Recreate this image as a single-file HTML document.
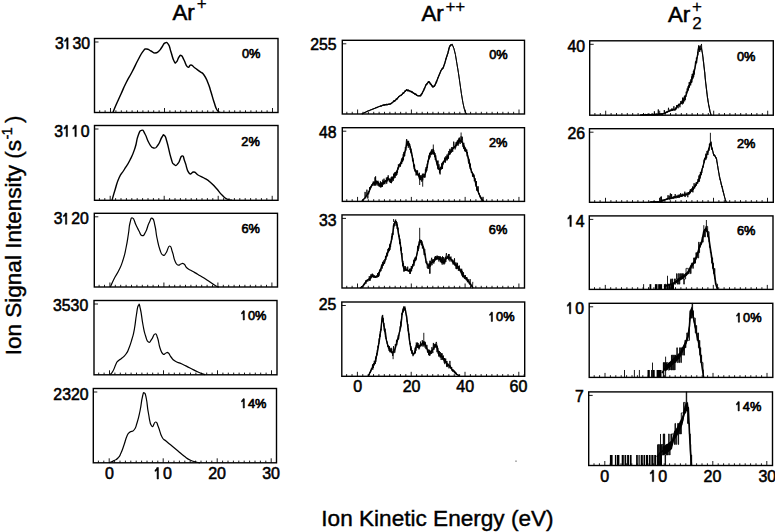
<!DOCTYPE html>
<html><head><meta charset="utf-8"><style>
html,body{margin:0;padding:0;background:#fff;}
body{width:775px;height:532px;overflow:hidden;}
svg{display:block;font-family:"Liberation Sans", sans-serif;-webkit-font-smoothing:antialiased;}
</style></head><body>
<svg width="775" height="532" viewBox="0 0 775 532">
<rect width="775" height="532" fill="#fff"/>
<rect x="94.5" y="38.5" width="183.50" height="74.00" fill="none" stroke="#000" stroke-width="1.4"/>
<line x1="94.5" y1="42.00" x2="98.50" y2="42.00" stroke="#000" stroke-width="0.9"/>
<path d="M99.70 112.50V110.30M105.10 112.50V110.30M110.50 112.50V108.00M115.90 112.50V110.30M121.30 112.50V110.30M126.70 112.50V110.30M132.10 112.50V110.30M137.50 112.50V110.30M142.90 112.50V110.30M148.30 112.50V110.30M153.70 112.50V110.30M159.10 112.50V110.30M164.50 112.50V108.00M169.90 112.50V110.30M175.30 112.50V110.30M180.70 112.50V110.30M186.10 112.50V110.30M191.50 112.50V110.30M196.90 112.50V110.30M202.30 112.50V110.30M207.70 112.50V110.30M213.10 112.50V110.30M218.50 112.50V108.00M223.90 112.50V110.30M229.30 112.50V110.30M234.70 112.50V110.30M240.10 112.50V110.30M245.50 112.50V110.30M250.90 112.50V110.30M256.30 112.50V110.30M261.70 112.50V110.30M267.10 112.50V110.30M272.50 112.50V108.00" stroke="#000" stroke-width="0.9" fill="none"/>
<rect x="94.5" y="125.5" width="183.50" height="74.80" fill="none" stroke="#000" stroke-width="1.4"/>
<line x1="94.5" y1="129.00" x2="98.50" y2="129.00" stroke="#000" stroke-width="0.9"/>
<path d="M99.40 200.30V198.10M104.80 200.30V198.10M110.20 200.30V195.80M115.60 200.30V198.10M121.00 200.30V198.10M126.40 200.30V198.10M131.80 200.30V198.10M137.20 200.30V198.10M142.60 200.30V198.10M148.00 200.30V198.10M153.40 200.30V198.10M158.80 200.30V198.10M164.20 200.30V195.80M169.60 200.30V198.10M175.00 200.30V198.10M180.40 200.30V198.10M185.80 200.30V198.10M191.20 200.30V198.10M196.60 200.30V198.10M202.00 200.30V198.10M207.40 200.30V198.10M212.80 200.30V198.10M218.20 200.30V195.80M223.60 200.30V198.10M229.00 200.30V198.10M234.40 200.30V198.10M239.80 200.30V198.10M245.20 200.30V198.10M250.60 200.30V198.10M256.00 200.30V198.10M261.40 200.30V198.10M266.80 200.30V198.10M272.20 200.30V195.80" stroke="#000" stroke-width="0.9" fill="none"/>
<rect x="94.3" y="213.3" width="183.20" height="73.70" fill="none" stroke="#000" stroke-width="1.4"/>
<line x1="94.3" y1="216.80" x2="98.30" y2="216.80" stroke="#000" stroke-width="0.9"/>
<path d="M99.10 287.00V284.80M104.50 287.00V284.80M109.90 287.00V282.50M115.30 287.00V284.80M120.70 287.00V284.80M126.10 287.00V284.80M131.50 287.00V284.80M136.90 287.00V284.80M142.30 287.00V284.80M147.70 287.00V284.80M153.10 287.00V284.80M158.50 287.00V284.80M163.90 287.00V282.50M169.30 287.00V284.80M174.70 287.00V284.80M180.10 287.00V284.80M185.50 287.00V284.80M190.90 287.00V284.80M196.30 287.00V284.80M201.70 287.00V284.80M207.10 287.00V284.80M212.50 287.00V284.80M217.90 287.00V282.50M223.30 287.00V284.80M228.70 287.00V284.80M234.10 287.00V284.80M239.50 287.00V284.80M244.90 287.00V284.80M250.30 287.00V284.80M255.70 287.00V284.80M261.10 287.00V284.80M266.50 287.00V284.80M271.90 287.00V282.50" stroke="#000" stroke-width="0.9" fill="none"/>
<rect x="94" y="300.5" width="183.00" height="74.30" fill="none" stroke="#000" stroke-width="1.4"/>
<line x1="94" y1="304.00" x2="98.00" y2="304.00" stroke="#000" stroke-width="0.9"/>
<path d="M98.70 374.80V372.60M104.10 374.80V372.60M109.50 374.80V370.30M114.90 374.80V372.60M120.30 374.80V372.60M125.70 374.80V372.60M131.10 374.80V372.60M136.50 374.80V372.60M141.90 374.80V372.60M147.30 374.80V372.60M152.70 374.80V372.60M158.10 374.80V372.60M163.50 374.80V370.30M168.90 374.80V372.60M174.30 374.80V372.60M179.70 374.80V372.60M185.10 374.80V372.60M190.50 374.80V372.60M195.90 374.80V372.60M201.30 374.80V372.60M206.70 374.80V372.60M212.10 374.80V372.60M217.50 374.80V370.30M222.90 374.80V372.60M228.30 374.80V372.60M233.70 374.80V372.60M239.10 374.80V372.60M244.50 374.80V372.60M249.90 374.80V372.60M255.30 374.80V372.60M260.70 374.80V372.60M266.10 374.80V372.60M271.50 374.80V370.30" stroke="#000" stroke-width="0.9" fill="none"/>
<rect x="93.3" y="388.5" width="183.20" height="74.30" fill="none" stroke="#000" stroke-width="1.4"/>
<line x1="93.3" y1="392.00" x2="97.30" y2="392.00" stroke="#000" stroke-width="0.9"/>
<path d="M98.40 462.80V460.60M103.80 462.80V460.60M109.20 462.80V458.30M114.60 462.80V460.60M120.00 462.80V460.60M125.40 462.80V460.60M130.80 462.80V460.60M136.20 462.80V460.60M141.60 462.80V460.60M147.00 462.80V460.60M152.40 462.80V460.60M157.80 462.80V460.60M163.20 462.80V458.30M168.60 462.80V460.60M174.00 462.80V460.60M179.40 462.80V460.60M184.80 462.80V460.60M190.20 462.80V460.60M195.60 462.80V460.60M201.00 462.80V460.60M206.40 462.80V460.60M211.80 462.80V460.60M217.20 462.80V458.30M222.60 462.80V460.60M228.00 462.80V460.60M233.40 462.80V460.60M238.80 462.80V460.60M244.20 462.80V460.60M249.60 462.80V460.60M255.00 462.80V460.60M260.40 462.80V460.60M265.80 462.80V460.60M271.20 462.80V458.30" stroke="#000" stroke-width="0.9" fill="none"/>
<rect x="342.3" y="40.3" width="182.20" height="73.70" fill="none" stroke="#000" stroke-width="1.4"/>
<line x1="342.3" y1="43.80" x2="346.30" y2="43.80" stroke="#000" stroke-width="0.9"/>
<path d="M346.84 114.00V111.80M352.22 114.00V111.80M357.60 114.00V109.50M362.98 114.00V111.80M368.36 114.00V111.80M373.74 114.00V111.80M379.12 114.00V111.80M384.50 114.00V111.80M389.88 114.00V111.80M395.26 114.00V111.80M400.64 114.00V111.80M406.02 114.00V111.80M411.40 114.00V109.50M416.78 114.00V111.80M422.16 114.00V111.80M427.54 114.00V111.80M432.92 114.00V111.80M438.30 114.00V111.80M443.68 114.00V111.80M449.06 114.00V111.80M454.44 114.00V111.80M459.82 114.00V111.80M465.20 114.00V109.50M470.58 114.00V111.80M475.96 114.00V111.80M481.34 114.00V111.80M486.72 114.00V111.80M492.10 114.00V111.80M497.48 114.00V111.80M502.86 114.00V111.80M508.24 114.00V111.80M513.62 114.00V111.80M519.00 114.00V109.50" stroke="#000" stroke-width="0.9" fill="none"/>
<rect x="342.3" y="127.7" width="182.20" height="73.70" fill="none" stroke="#000" stroke-width="1.4"/>
<line x1="342.3" y1="131.20" x2="346.30" y2="131.20" stroke="#000" stroke-width="0.9"/>
<path d="M346.79 201.40V199.20M352.17 201.40V199.20M357.55 201.40V196.90M362.93 201.40V199.20M368.31 201.40V199.20M373.69 201.40V199.20M379.07 201.40V199.20M384.45 201.40V199.20M389.83 201.40V199.20M395.21 201.40V199.20M400.59 201.40V199.20M405.97 201.40V199.20M411.35 201.40V196.90M416.73 201.40V199.20M422.11 201.40V199.20M427.49 201.40V199.20M432.87 201.40V199.20M438.25 201.40V199.20M443.63 201.40V199.20M449.01 201.40V199.20M454.39 201.40V199.20M459.77 201.40V199.20M465.15 201.40V196.90M470.53 201.40V199.20M475.91 201.40V199.20M481.29 201.40V199.20M486.67 201.40V199.20M492.05 201.40V199.20M497.43 201.40V199.20M502.81 201.40V199.20M508.19 201.40V199.20M513.57 201.40V199.20M518.95 201.40V196.90" stroke="#000" stroke-width="0.9" fill="none"/>
<rect x="342" y="214.9" width="182.50" height="73.10" fill="none" stroke="#000" stroke-width="1.4"/>
<line x1="342" y1="218.40" x2="346.00" y2="218.40" stroke="#000" stroke-width="0.9"/>
<path d="M346.74 288.00V285.80M352.12 288.00V285.80M357.50 288.00V283.50M362.88 288.00V285.80M368.26 288.00V285.80M373.64 288.00V285.80M379.02 288.00V285.80M384.40 288.00V285.80M389.78 288.00V285.80M395.16 288.00V285.80M400.54 288.00V285.80M405.92 288.00V285.80M411.30 288.00V283.50M416.68 288.00V285.80M422.06 288.00V285.80M427.44 288.00V285.80M432.82 288.00V285.80M438.20 288.00V285.80M443.58 288.00V285.80M448.96 288.00V285.80M454.34 288.00V285.80M459.72 288.00V285.80M465.10 288.00V283.50M470.48 288.00V285.80M475.86 288.00V285.80M481.24 288.00V285.80M486.62 288.00V285.80M492.00 288.00V285.80M497.38 288.00V285.80M502.76 288.00V285.80M508.14 288.00V285.80M513.52 288.00V285.80M518.90 288.00V283.50" stroke="#000" stroke-width="0.9" fill="none"/>
<rect x="341.8" y="302" width="182.90" height="74.30" fill="none" stroke="#000" stroke-width="1.4"/>
<line x1="341.8" y1="305.50" x2="345.80" y2="305.50" stroke="#000" stroke-width="0.9"/>
<path d="M346.64 376.30V374.10M352.02 376.30V374.10M357.40 376.30V371.80M362.78 376.30V374.10M368.16 376.30V374.10M373.54 376.30V374.10M378.92 376.30V374.10M384.30 376.30V374.10M389.68 376.30V374.10M395.06 376.30V374.10M400.44 376.30V374.10M405.82 376.30V374.10M411.20 376.30V371.80M416.58 376.30V374.10M421.96 376.30V374.10M427.34 376.30V374.10M432.72 376.30V374.10M438.10 376.30V374.10M443.48 376.30V374.10M448.86 376.30V374.10M454.24 376.30V374.10M459.62 376.30V374.10M465.00 376.30V371.80M470.38 376.30V374.10M475.76 376.30V374.10M481.14 376.30V374.10M486.52 376.30V374.10M491.90 376.30V374.10M497.28 376.30V374.10M502.66 376.30V374.10M508.04 376.30V374.10M513.42 376.30V374.10M518.80 376.30V371.80M524.18 376.30V374.10" stroke="#000" stroke-width="0.9" fill="none"/>
<rect x="589.7" y="40.8" width="183.60" height="74.40" fill="none" stroke="#000" stroke-width="1.4"/>
<line x1="589.7" y1="44.30" x2="593.70" y2="44.30" stroke="#000" stroke-width="0.9"/>
<path d="M594.90 115.20V113.00M600.30 115.20V113.00M605.70 115.20V110.70M611.10 115.20V113.00M616.50 115.20V113.00M621.90 115.20V113.00M627.30 115.20V113.00M632.70 115.20V113.00M638.10 115.20V113.00M643.50 115.20V113.00M648.90 115.20V113.00M654.30 115.20V113.00M659.70 115.20V110.70M665.10 115.20V113.00M670.50 115.20V113.00M675.90 115.20V113.00M681.30 115.20V113.00M686.70 115.20V113.00M692.10 115.20V113.00M697.50 115.20V113.00M702.90 115.20V113.00M708.30 115.20V113.00M713.70 115.20V110.70M719.10 115.20V113.00M724.50 115.20V113.00M729.90 115.20V113.00M735.30 115.20V113.00M740.70 115.20V113.00M746.10 115.20V113.00M751.50 115.20V113.00M756.90 115.20V113.00M762.30 115.20V113.00M767.70 115.20V110.70" stroke="#000" stroke-width="0.9" fill="none"/>
<rect x="589.5" y="128.7" width="183.80" height="73.60" fill="none" stroke="#000" stroke-width="1.4"/>
<line x1="589.5" y1="132.20" x2="593.50" y2="132.20" stroke="#000" stroke-width="0.9"/>
<path d="M594.70 202.30V200.10M600.10 202.30V200.10M605.50 202.30V197.80M610.90 202.30V200.10M616.30 202.30V200.10M621.70 202.30V200.10M627.10 202.30V200.10M632.50 202.30V200.10M637.90 202.30V200.10M643.30 202.30V200.10M648.70 202.30V200.10M654.10 202.30V200.10M659.50 202.30V197.80M664.90 202.30V200.10M670.30 202.30V200.10M675.70 202.30V200.10M681.10 202.30V200.10M686.50 202.30V200.10M691.90 202.30V200.10M697.30 202.30V200.10M702.70 202.30V200.10M708.10 202.30V200.10M713.50 202.30V197.80M718.90 202.30V200.10M724.30 202.30V200.10M729.70 202.30V200.10M735.10 202.30V200.10M740.50 202.30V200.10M745.90 202.30V200.10M751.30 202.30V200.10M756.70 202.30V200.10M762.10 202.30V200.10M767.50 202.30V197.80" stroke="#000" stroke-width="0.9" fill="none"/>
<rect x="589.3" y="215.9" width="183.70" height="73.50" fill="none" stroke="#000" stroke-width="1.4"/>
<line x1="589.3" y1="219.40" x2="593.30" y2="219.40" stroke="#000" stroke-width="0.9"/>
<path d="M594.50 289.40V287.20M599.90 289.40V287.20M605.30 289.40V284.90M610.70 289.40V287.20M616.10 289.40V287.20M621.50 289.40V287.20M626.90 289.40V287.20M632.30 289.40V287.20M637.70 289.40V287.20M643.10 289.40V287.20M648.50 289.40V287.20M653.90 289.40V287.20M659.30 289.40V284.90M664.70 289.40V287.20M670.10 289.40V287.20M675.50 289.40V287.20M680.90 289.40V287.20M686.30 289.40V287.20M691.70 289.40V287.20M697.10 289.40V287.20M702.50 289.40V287.20M707.90 289.40V287.20M713.30 289.40V284.90M718.70 289.40V287.20M724.10 289.40V287.20M729.50 289.40V287.20M734.90 289.40V287.20M740.30 289.40V287.20M745.70 289.40V287.20M751.10 289.40V287.20M756.50 289.40V287.20M761.90 289.40V287.20M767.30 289.40V284.90" stroke="#000" stroke-width="0.9" fill="none"/>
<rect x="589.2" y="303.3" width="183.60" height="74.10" fill="none" stroke="#000" stroke-width="1.4"/>
<line x1="589.2" y1="306.80" x2="593.20" y2="306.80" stroke="#000" stroke-width="0.9"/>
<path d="M594.20 377.40V375.20M599.60 377.40V375.20M605.00 377.40V372.90M610.40 377.40V375.20M615.80 377.40V375.20M621.20 377.40V375.20M626.60 377.40V375.20M632.00 377.40V375.20M637.40 377.40V375.20M642.80 377.40V375.20M648.20 377.40V375.20M653.60 377.40V375.20M659.00 377.40V372.90M664.40 377.40V375.20M669.80 377.40V375.20M675.20 377.40V375.20M680.60 377.40V375.20M686.00 377.40V375.20M691.40 377.40V375.20M696.80 377.40V375.20M702.20 377.40V375.20M707.60 377.40V375.20M713.00 377.40V372.90M718.40 377.40V375.20M723.80 377.40V375.20M729.20 377.40V375.20M734.60 377.40V375.20M740.00 377.40V375.20M745.40 377.40V375.20M750.80 377.40V375.20M756.20 377.40V375.20M761.60 377.40V375.20M767.00 377.40V372.90" stroke="#000" stroke-width="0.9" fill="none"/>
<rect x="588.7" y="391.9" width="183.80" height="73.60" fill="none" stroke="#000" stroke-width="1.4"/>
<line x1="588.7" y1="395.40" x2="592.70" y2="395.40" stroke="#000" stroke-width="0.9"/>
<path d="M594.00 465.50V463.30M599.40 465.50V463.30M604.80 465.50V461.00M610.20 465.50V463.30M615.60 465.50V463.30M621.00 465.50V463.30M626.40 465.50V463.30M631.80 465.50V463.30M637.20 465.50V463.30M642.60 465.50V463.30M648.00 465.50V463.30M653.40 465.50V463.30M658.80 465.50V461.00M664.20 465.50V463.30M669.60 465.50V463.30M675.00 465.50V463.30M680.40 465.50V463.30M685.80 465.50V463.30M691.20 465.50V463.30M696.60 465.50V463.30M702.00 465.50V463.30M707.40 465.50V463.30M712.80 465.50V461.00M718.20 465.50V463.30M723.60 465.50V463.30M729.00 465.50V463.30M734.40 465.50V463.30M739.80 465.50V463.30M745.20 465.50V463.30M750.60 465.50V463.30M756.00 465.50V463.30M761.40 465.50V463.30M766.80 465.50V461.00" stroke="#000" stroke-width="0.9" fill="none"/>
<path d="M113.00 112.40 C113.90 110.18 113.60 110.52 116.00 105.00 C118.40 99.48 118.00 100.60 121.00 94.00 C124.00 87.40 122.70 89.60 126.00 83.00 C129.30 76.40 128.40 78.90 132.00 72.00 C135.60 65.10 134.70 66.18 138.00 60.00 C141.30 53.82 140.48 54.70 143.00 51.40 C145.52 48.10 144.00 49.12 146.40 49.00 C148.80 48.88 148.42 49.80 151.00 51.00 C153.58 52.20 152.60 53.00 155.00 53.00 C157.40 53.00 156.90 52.80 159.00 51.00 C161.10 49.20 160.20 49.40 162.00 47.00 C163.80 44.60 163.08 43.78 165.00 43.00 C166.92 42.22 166.60 41.70 168.40 44.40 C170.20 47.10 169.32 47.02 171.00 52.00 C172.68 56.98 172.38 58.00 174.00 61.00 C175.62 64.00 174.90 63.20 176.40 62.00 C177.90 60.80 177.50 58.92 179.00 57.00 C180.50 55.08 179.90 54.70 181.40 55.60 C182.90 56.50 182.14 56.58 184.00 60.00 C185.86 63.42 185.50 65.50 187.60 67.00 C189.70 68.50 188.78 64.70 191.00 65.00 C193.22 65.30 192.30 66.02 195.00 68.00 C197.70 69.98 197.30 69.50 200.00 71.60 C202.70 73.70 201.60 71.58 204.00 75.00 C206.40 78.42 205.90 77.90 208.00 83.00 C210.10 88.10 209.20 86.30 211.00 92.00 C212.80 97.70 212.20 96.60 214.00 102.00 C215.80 107.40 215.20 106.88 217.00 110.00 C218.80 113.12 219.10 111.68 220.00 112.40" fill="none" stroke="#000" stroke-width="1.45" stroke-linejoin="round"/>
<path d="M112.00 200.30 C112.90 197.21 112.90 196.69 115.00 190.00 C117.10 183.31 116.30 184.00 119.00 178.00 C121.70 172.00 120.70 175.40 124.00 170.00 C127.30 164.60 126.70 166.60 130.00 160.00 C133.30 153.40 132.60 155.20 135.00 148.00 C137.40 140.80 136.02 141.28 138.00 136.00 C139.98 130.72 139.50 131.00 141.60 130.40 C143.70 129.80 142.78 130.22 145.00 134.00 C147.22 137.78 146.42 138.80 149.00 143.00 C151.58 147.20 150.90 147.40 153.60 148.00 C156.30 148.60 155.48 148.30 158.00 145.00 C160.52 141.70 160.08 139.82 162.00 137.00 C163.92 134.18 162.90 134.10 164.40 135.60 C165.90 137.10 165.02 135.28 167.00 142.00 C168.98 148.72 168.90 151.28 171.00 158.00 C173.10 164.72 171.90 162.72 174.00 164.40 C176.10 166.08 175.60 166.12 178.00 163.60 C180.40 161.08 179.90 156.48 182.00 156.00 C184.10 155.52 182.90 156.90 185.00 162.00 C187.10 167.10 186.30 170.00 189.00 173.00 C191.70 176.00 191.30 171.40 194.00 172.00 C196.70 172.60 195.00 173.20 198.00 175.00 C201.00 176.80 200.40 175.90 204.00 178.00 C207.60 180.10 206.40 179.00 210.00 182.00 C213.60 185.00 212.40 184.10 216.00 188.00 C219.60 191.90 218.70 191.70 222.00 195.00 C225.30 198.30 224.00 197.41 227.00 199.00 C230.00 200.59 230.50 199.91 232.00 200.30" fill="none" stroke="#000" stroke-width="1.4" stroke-linejoin="round"/>
<path d="M110.40 287.00 C111.48 284.60 111.42 284.10 114.00 279.00 C116.58 273.90 116.30 275.70 119.00 270.00 C121.70 264.30 120.90 266.60 123.00 260.00 C125.10 253.40 124.38 255.80 126.00 248.00 C127.62 240.20 127.20 241.50 128.40 234.00 C129.60 226.50 128.74 227.80 130.00 223.00 C131.26 218.20 130.80 217.40 132.60 218.00 C134.40 218.60 134.08 221.10 136.00 225.00 C137.92 228.90 137.20 227.82 139.00 231.00 C140.80 234.18 140.02 235.30 142.00 235.60 C143.98 235.90 143.50 235.78 145.60 232.00 C147.70 228.22 146.96 227.08 149.00 223.00 C151.04 218.92 150.60 217.50 152.40 218.40 C154.20 219.30 153.62 220.12 155.00 226.00 C156.38 231.88 155.50 230.80 157.00 238.00 C158.50 245.20 158.20 244.90 160.00 250.00 C161.80 255.10 161.20 254.10 163.00 255.00 C164.80 255.90 164.02 255.70 166.00 253.00 C167.98 250.30 167.68 246.30 169.60 246.00 C171.52 245.70 170.78 247.50 172.40 252.00 C174.02 256.50 173.32 257.10 175.00 261.00 C176.68 264.90 176.20 264.10 178.00 265.00 C179.80 265.90 179.20 264.30 181.00 264.00 C182.80 263.70 182.20 262.80 184.00 264.00 C185.80 265.20 184.60 265.90 187.00 268.00 C189.40 270.10 188.70 269.08 192.00 271.00 C195.30 272.92 194.40 272.30 198.00 274.40 C201.60 276.50 200.40 275.72 204.00 278.00 C207.60 280.28 206.40 279.60 210.00 282.00 C213.60 284.40 213.30 284.50 216.00 286.00 C218.70 287.50 218.10 286.70 219.00 287.00" fill="none" stroke="#000" stroke-width="1.2" stroke-linejoin="round"/>
<path d="M110.00 374.80 C110.90 373.66 111.20 374.24 113.00 371.00 C114.80 367.76 114.50 367.00 116.00 364.00 C117.50 361.00 116.20 362.80 118.00 361.00 C119.80 359.20 119.60 360.10 122.00 358.00 C124.40 355.90 123.90 357.00 126.00 354.00 C128.10 351.00 127.20 352.50 129.00 348.00 C130.80 343.50 130.38 344.70 132.00 339.00 C133.62 333.30 133.08 336.20 134.40 329.00 C135.72 321.80 135.20 322.08 136.40 315.00 C137.60 307.92 137.20 307.20 138.40 305.40 C139.60 303.60 139.02 303.12 140.40 309.00 C141.78 314.88 141.44 316.90 143.00 325.00 C144.56 333.10 143.98 330.90 145.60 336.00 C147.22 341.10 146.60 340.98 148.40 342.00 C150.20 343.02 149.62 341.80 151.60 339.40 C153.58 337.00 153.20 334.42 155.00 334.00 C156.80 333.58 156.10 333.80 157.60 338.00 C159.10 342.20 158.38 343.20 160.00 348.00 C161.62 352.80 161.20 352.50 163.00 354.00 C164.80 355.50 164.38 353.30 166.00 353.00 C167.62 352.70 166.90 351.80 168.40 353.00 C169.90 354.20 169.02 354.60 171.00 357.00 C172.98 359.40 171.70 358.90 175.00 361.00 C178.30 363.10 177.50 361.90 182.00 364.00 C186.50 366.10 185.20 365.60 190.00 368.00 C194.80 370.40 193.50 369.96 198.00 372.00 C202.50 374.04 202.90 373.96 205.00 374.80" fill="none" stroke="#000" stroke-width="1.2" stroke-linejoin="round"/>
<path d="M109.00 462.80 C110.50 462.14 111.30 462.04 114.00 460.60 C116.70 459.16 115.90 460.28 118.00 458.00 C120.10 455.72 119.20 456.90 121.00 453.00 C122.80 449.10 122.20 450.10 124.00 445.00 C125.80 439.90 125.20 439.90 127.00 436.00 C128.80 432.10 127.90 433.80 130.00 432.00 C132.10 430.20 131.90 432.70 134.00 430.00 C136.10 427.30 135.20 428.70 137.00 423.00 C138.80 417.30 138.38 418.80 140.00 411.00 C141.62 403.20 141.08 402.40 142.40 397.00 C143.72 391.60 143.20 392.40 144.40 393.00 C145.60 393.60 145.20 393.00 146.40 399.00 C147.60 405.00 146.84 404.90 148.40 413.00 C149.96 421.10 149.44 423.30 151.60 426.00 C153.76 428.70 153.56 421.70 155.60 422.00 C157.64 422.30 156.48 422.50 158.40 427.00 C160.32 431.50 159.72 432.80 162.00 437.00 C164.28 441.20 163.00 438.30 166.00 441.00 C169.00 443.70 168.40 443.00 172.00 446.00 C175.60 449.00 174.40 448.00 178.00 451.00 C181.60 454.00 180.40 453.30 184.00 456.00 C187.60 458.70 186.40 458.20 190.00 460.00 C193.60 461.80 193.00 461.16 196.00 462.00 C199.00 462.84 198.80 462.56 200.00 462.80" fill="none" stroke="#000" stroke-width="1.2" stroke-linejoin="round"/>
<path d="M361.80 114.00 L366.80 111.50 L371.80 109.50 L378.00 107.00 L384.00 105.00 L390.00 104.20 L393.00 101.90 L396.00 99.70 L399.00 96.60 L402.00 94.40 L404.30 92.10 L406.50 89.90 L408.80 90.60 L411.10 91.40 L413.30 92.90 L415.60 94.40 L417.80 95.90 L420.10 95.90 L421.60 94.40 L423.80 89.90 L426.10 84.60 L428.80 81.60 L430.60 83.90 L432.90 86.90 L434.40 86.10 L436.60 81.60 L438.90 75.60 L441.10 70.30 L443.40 67.30 L444.90 62.80 L446.40 57.50 L447.90 53.00 L449.40 47.00 L450.90 44.80 L452.00 44.80" fill="none" stroke="#000" stroke-width="1.3" stroke-linejoin="round"/>
<path d="M452.00 44.80 L452.40 44.80 L453.90 48.50 L455.40 54.50 L456.90 63.60 L458.40 72.60 L459.90 83.10 L461.40 93.60 L462.90 102.70 L464.40 109.40 L465.90 113.20 L467.00 114.00" fill="none" stroke="#000" stroke-width="1.0" stroke-linejoin="round"/>
<path d="M361.80 113.85 L362.20 113.98 L362.60 113.30 L363.00 113.55 L363.40 113.03 L363.80 113.19 L364.20 112.74 L364.60 112.77 L365.00 112.19 L365.40 112.46 L365.80 111.97 L366.20 111.90 L366.60 111.57 L367.00 111.69 L367.40 111.03 L367.80 111.11 L368.20 110.62 L368.60 111.10 L369.00 110.40 L369.40 110.66 L369.80 110.25 L370.20 110.15 L370.60 109.79 L371.00 109.84 L371.40 109.58 L371.80 109.60 L372.20 109.33 L372.60 109.38 L373.00 108.81 L373.40 109.25 L373.80 108.44 L374.20 108.85 L374.60 108.11 L375.00 108.56 L375.40 107.80 L375.80 108.04 L376.20 107.15 L376.60 108.15 L377.00 106.90 L377.40 107.68 L377.80 106.88 L378.20 107.08 L378.60 106.61 L379.00 106.71 L379.40 106.01 L379.80 106.68 L380.20 105.67 L380.60 106.41 L381.00 105.30 L381.40 106.50 L381.80 105.73 L382.20 105.76 L382.60 104.75 L383.00 105.71 L383.40 104.41 L383.80 105.39 L384.20 104.91 L384.60 105.44 L385.00 104.21 L385.40 105.04 L385.80 104.69 L386.20 104.99 L386.60 103.83 L387.00 105.25 L387.40 104.44 L387.80 104.71 L388.20 104.35 L388.60 104.44 L389.00 103.63 L389.40 104.44 L389.80 103.73 L390.20 104.45 L390.60 103.56 L391.00 104.14 L391.40 103.00 L391.80 103.48 L392.20 102.39 L392.60 102.66 L393.00 101.67 L393.40 101.90 L393.80 100.25 L394.20 101.90 L394.60 100.39 L395.00 101.41 L395.40 99.91 L395.80 100.28 L396.20 98.55 L396.60 99.79 L397.00 98.56 L397.40 99.34 L397.80 97.61 L398.20 97.71 L398.60 96.16 L399.00 96.96 L399.40 95.98 L399.80 96.09 L400.20 95.62 L400.60 96.07 L401.00 94.87 L401.40 95.50 L401.80 94.14 L402.20 94.70 L402.60 92.74 L403.00 93.93 L403.40 92.37 L403.80 93.55 L404.20 92.00 L404.60 91.97 L405.00 90.40 L405.40 91.90 L405.80 90.33 L406.20 90.41 L406.60 89.12 L407.00 91.09 L407.40 89.96 L407.80 91.34 L408.20 89.45 L408.60 91.20 L409.00 90.21 L409.40 90.92 L409.80 90.91 L410.20 92.15 L410.60 90.96 L411.00 92.14 L411.40 91.32 L411.80 92.78 L412.20 91.49 L412.60 92.75 L413.00 92.50 L413.40 93.76 L413.80 93.15 L414.20 93.74 L414.60 93.13 L415.00 94.95 L415.40 93.59 L415.80 94.84 L416.20 93.80 L416.60 95.31 L417.00 95.34 L417.40 95.92 L417.80 95.41 L418.20 95.97 L418.60 95.71 L419.00 96.31 L419.40 95.27 L419.80 96.04 L420.20 95.40 L420.60 96.38 L421.00 93.92 L421.40 95.32 L421.80 93.23 L422.20 93.82 L422.60 92.20 L423.00 91.57 L423.40 90.70 L423.80 90.90 L424.20 88.21 L424.60 89.12 L425.00 87.11 L425.40 86.91 L425.80 84.76 L426.20 85.29 L426.60 83.69 L427.00 84.70 L427.40 83.07 L427.80 83.31 L428.20 81.46 L428.60 82.81 L429.00 81.04 L429.40 83.14 L429.80 82.01 L430.20 84.40 L430.60 83.51 L431.00 85.18 L431.40 83.95 L431.80 86.42 L432.20 85.53 L432.60 87.38 L433.00 85.90 L433.40 87.26 L433.80 85.73 L434.20 86.63 L434.60 85.05 L435.00 85.54 L435.40 83.97 L435.80 83.94 L436.20 81.33 L436.60 82.57 L437.00 79.76 L437.40 79.94 L437.80 77.66 L438.20 78.07 L438.60 75.90 L439.00 76.28 L439.40 74.30 L439.80 74.26 L440.20 72.44 L440.60 72.17 L441.00 70.01 L441.40 70.16 L441.80 68.62 L442.20 69.41 L442.60 67.67 L443.00 68.83 L443.40 67.02 L443.80 66.11 L444.20 64.57 L444.60 64.45 L445.00 62.22 L445.40 61.22 L445.80 58.62 L446.20 58.93 L446.60 56.41 L447.00 56.68 L447.40 54.14 L447.80 54.03 L448.20 51.58 L448.60 50.67 L449.00 47.71 L449.40 48.01 L449.80 45.45 L450.20 46.25 L450.60 44.60 L451.00 45.15 L451.40 44.65 L451.80 45.35 L452.20 43.88 L452.60 45.57 L453.00 46.05 L453.40 47.58 L453.80 48.16 L454.20 49.76 L454.60 51.15 L455.00 52.99 L455.40 54.43 L455.80 57.06 L456.20 59.15 L456.60 61.94 L457.00 64.10 L457.40 66.88 L457.80 68.68 L458.20 71.55 L458.60 73.98 L459.00 76.81 L459.40 79.31 L459.80 82.41 L460.20 84.97 L460.60 88.19 L461.00 90.70 L461.40 93.86 L461.80 96.02 L462.20 98.50 L462.60 100.73 L463.00 103.15 L463.40 104.73 L463.80 106.77 L464.20 108.49 L464.60 109.91 L465.00 110.86 L465.40 111.98 L465.80 112.88 L466.20 113.48 L466.60 113.63 L467.00 114.00" fill="none" stroke="#000" stroke-width="0.8" stroke-linejoin="miter"/>
<path d="M361.80 201.40 L365.50 197.20 L368.50 192.70 L370.80 187.40 L373.00 183.60 L376.00 181.40 L378.30 182.90 L379.80 185.20 L382.10 183.60 L385.10 181.40 L388.10 179.10 L391.10 179.90 L394.10 176.90 L396.40 172.40 L398.60 167.10 L400.90 162.60 L403.10 158.10 L405.40 150.60 L406.90 143.00 L407.90 143.50 L409.90 146.10 L411.40 152.10 L412.90 159.60 L414.40 168.60 L416.70 173.10 L418.90 176.10 L421.20 177.60 L423.40 176.90 L425.00 174.60 L427.30 165.60 L429.50 155.10 L431.00 152.10 L432.50 151.30 L434.80 155.10 L436.30 161.10 L438.50 167.90 L440.00 170.10 L442.30 165.60 L444.50 160.30 L447.60 156.60 L450.60 151.30 L453.60 147.60 L455.80 146.10 L458.10 142.30 L459.60 140.50 L461.80 141.50 L463.30 144.50 L464.80 147.60 L467.10 153.60 L468.60 158.80 L470.10 166.40 L471.60 171.60 L473.90 176.10 L475.40 182.10 L476.90 188.20 L479.10 194.20 L481.40 198.70 L483.60 201.40" fill="none" stroke="#000" stroke-width="1.4" stroke-linejoin="round"/>
<path d="M361.80 200.86 L362.10 201.40 L362.40 200.71 L362.70 200.69 L363.00 199.25 L363.30 200.33 L363.60 199.19 L363.90 199.20 L364.20 198.61 L364.50 198.42 L364.80 197.61 L365.10 191.91 L365.40 196.65 L365.70 198.31 L366.00 196.27 L366.30 196.23 L366.60 194.40 L366.90 189.65 L367.20 193.79 L367.50 195.56 L367.80 198.47 L368.10 195.80 L368.40 191.89 L368.70 194.24 L369.00 191.19 L369.30 192.07 L369.60 187.28 L369.90 189.58 L370.20 187.15 L370.50 188.94 L370.80 185.92 L371.10 187.27 L371.40 185.69 L371.70 185.99 L372.00 184.02 L372.30 185.01 L372.60 183.50 L372.90 185.58 L373.20 181.63 L373.50 183.87 L373.80 181.63 L374.10 185.64 L374.40 182.55 L374.70 185.28 L375.00 177.28 L375.30 185.65 L375.60 176.33 L375.90 184.63 L376.20 180.66 L376.50 183.54 L376.80 180.92 L377.10 185.52 L377.40 181.21 L377.70 183.57 L378.00 180.75 L378.30 185.58 L378.60 182.28 L378.90 186.42 L379.20 183.78 L379.50 186.34 L379.80 183.55 L380.10 187.12 L380.40 181.29 L380.70 187.46 L381.00 182.13 L381.30 187.16 L381.60 182.63 L381.90 186.54 L382.20 183.46 L382.50 186.74 L382.80 179.68 L383.10 184.90 L383.40 181.20 L383.70 183.77 L384.00 178.66 L384.30 184.04 L384.60 181.29 L384.90 184.21 L385.20 180.39 L385.50 182.32 L385.80 180.32 L386.10 181.82 L386.40 177.52 L386.70 183.73 L387.00 179.83 L387.30 181.40 L387.60 176.95 L387.90 180.16 L388.20 175.29 L388.50 179.97 L388.80 178.45 L389.10 181.27 L389.40 178.83 L389.70 181.83 L390.00 178.66 L390.30 182.93 L390.60 178.90 L390.90 182.74 L391.20 177.24 L391.50 183.20 L391.80 176.61 L392.10 181.68 L392.40 176.70 L392.70 179.47 L393.00 177.14 L393.30 180.79 L393.60 173.84 L393.90 178.58 L394.20 173.29 L394.50 176.60 L394.80 172.33 L395.10 177.92 L395.40 172.01 L395.70 175.32 L396.00 171.72 L396.30 175.66 L396.60 171.14 L396.90 174.89 L397.20 170.27 L397.50 173.07 L397.80 167.66 L398.10 169.47 L398.40 164.29 L398.70 167.71 L399.00 166.22 L399.30 165.78 L399.60 164.52 L399.90 165.68 L400.20 163.27 L400.50 166.66 L400.80 162.41 L401.10 164.23 L401.40 159.57 L401.70 164.01 L402.00 157.93 L402.30 162.15 L402.60 157.55 L402.90 161.23 L403.20 154.26 L403.50 160.05 L403.80 152.18 L404.10 156.46 L404.40 151.55 L404.70 156.07 L405.00 151.67 L405.30 147.18 L405.60 149.16 L405.90 150.41 L406.20 142.90 L406.50 139.25 L406.80 141.70 L407.10 145.98 L407.40 141.19 L407.70 144.32 L408.00 141.32 L408.30 147.77 L408.60 140.86 L408.90 145.93 L409.20 142.91 L409.50 145.63 L409.80 144.14 L410.10 150.04 L410.40 146.81 L410.70 152.58 L411.00 148.66 L411.30 154.07 L411.60 151.73 L411.90 156.06 L412.20 155.62 L412.50 161.22 L412.80 158.14 L413.10 161.19 L413.40 160.20 L413.70 166.48 L414.00 164.01 L414.30 169.18 L414.60 165.20 L414.90 171.49 L415.20 169.51 L415.50 171.53 L415.80 169.94 L416.10 175.49 L416.40 171.25 L416.70 174.61 L417.00 170.21 L417.30 174.87 L417.60 170.57 L417.90 175.39 L418.20 174.07 L418.50 176.44 L418.80 173.54 L419.10 178.47 L419.40 172.78 L419.70 180.18 L420.00 175.05 L420.30 179.73 L420.60 176.30 L420.90 180.17 L421.20 175.08 L421.50 180.22 L421.80 181.70 L422.10 178.80 L422.40 173.79 L422.70 180.30 L423.00 175.83 L423.30 173.58 L423.60 175.44 L423.90 176.64 L424.20 174.31 L424.50 177.60 L424.80 174.33 L425.10 177.48 L425.40 169.49 L425.70 173.26 L426.00 167.23 L426.30 171.61 L426.60 167.35 L426.90 170.61 L427.20 163.65 L427.50 167.83 L427.80 160.77 L428.10 161.86 L428.40 158.99 L428.70 159.21 L429.00 155.50 L429.30 159.26 L429.60 152.81 L429.90 157.52 L430.20 157.37 L430.50 155.47 L430.80 151.66 L431.10 155.09 L431.40 149.89 L431.70 154.30 L432.00 149.10 L432.30 152.50 L432.60 154.20 L432.90 154.25 L433.20 148.78 L433.50 153.62 L433.80 150.18 L434.10 154.79 L434.40 151.93 L434.70 157.10 L435.00 153.04 L435.30 159.95 L435.60 155.43 L435.90 155.43 L436.20 160.34 L436.50 163.29 L436.80 160.49 L437.10 165.59 L437.40 161.06 L437.70 168.74 L438.00 160.56 L438.30 169.80 L438.60 167.27 L438.90 164.19 L439.20 165.81 L439.50 173.16 L439.80 168.15 L440.10 174.42 L440.40 166.81 L440.70 169.50 L441.00 167.89 L441.30 169.38 L441.60 163.43 L441.90 168.94 L442.20 162.85 L442.50 168.86 L442.80 161.82 L443.10 164.31 L443.40 161.25 L443.70 162.99 L444.00 160.84 L444.30 162.03 L444.60 157.58 L444.90 161.47 L445.20 158.70 L445.50 162.58 L445.80 156.28 L446.10 160.45 L446.40 156.80 L446.70 158.32 L447.00 154.54 L447.30 160.34 L447.60 156.26 L447.90 158.38 L448.20 153.43 L448.50 158.73 L448.80 151.03 L449.10 155.00 L449.40 152.48 L449.70 149.07 L450.00 148.76 L450.30 154.37 L450.60 151.14 L450.90 151.41 L451.20 148.91 L451.50 152.61 L451.80 147.03 L452.10 150.59 L452.40 147.41 L452.70 151.90 L453.00 148.01 L453.30 149.09 L453.60 141.72 L453.90 141.73 L454.20 146.19 L454.50 147.44 L454.80 146.14 L455.10 149.40 L455.40 144.72 L455.70 147.71 L456.00 142.30 L456.30 145.68 L456.60 142.13 L456.90 145.26 L457.20 140.77 L457.50 144.16 L457.80 140.21 L458.10 145.78 L458.40 139.29 L458.70 144.21 L459.00 137.84 L459.30 142.55 L459.60 137.67 L459.90 141.82 L460.20 143.93 L460.50 142.40 L460.80 138.33 L461.10 136.31 L461.40 137.25 L461.70 142.63 L462.00 141.49 L462.30 136.72 L462.60 140.37 L462.90 146.79 L463.20 143.44 L463.50 148.65 L463.80 142.79 L464.10 149.16 L464.40 146.44 L464.70 151.07 L465.00 147.78 L465.30 151.76 L465.60 147.87 L465.90 151.15 L466.20 149.63 L466.50 152.61 L466.80 149.66 L467.10 156.39 L467.40 151.96 L467.70 156.31 L468.00 159.22 L468.30 161.50 L468.60 163.51 L468.90 163.28 L469.20 159.38 L469.50 166.60 L469.80 162.80 L470.10 168.79 L470.40 163.87 L470.70 169.73 L471.00 168.63 L471.30 172.56 L471.60 171.32 L471.90 172.88 L472.20 172.13 L472.50 176.71 L472.80 173.10 L473.10 176.10 L473.40 174.44 L473.70 177.02 L474.00 174.61 L474.30 181.21 L474.60 178.82 L474.90 180.49 L475.20 178.30 L475.50 185.22 L475.80 182.01 L476.10 186.68 L476.40 181.05 L476.70 190.68 L477.00 186.42 L477.30 190.03 L477.60 189.89 L477.90 191.34 L478.20 186.35 L478.50 193.64 L478.80 193.23 L479.10 194.44 L479.40 193.45 L479.70 196.44 L480.00 195.60 L480.30 197.97 L480.60 196.47 L480.90 198.63 L481.20 197.44 L481.50 199.44 L481.80 198.54 L482.10 200.42 L482.40 199.79 L482.70 201.24 L483.00 196.87 L483.30 201.40" fill="none" stroke="#000" stroke-width="0.85" stroke-linejoin="miter"/>
<path d="M360.30 288.00 L363.30 285.70 L366.30 281.20 L369.30 278.90 L372.30 275.90 L375.30 277.40 L377.60 275.20 L379.80 271.40 L382.10 265.40 L384.30 263.10 L386.60 255.60 L388.80 250.30 L391.10 242.10 L392.60 234.60 L393.80 225.50 L395.30 221.00 L396.80 224.00 L397.90 230.00 L399.40 239.10 L400.90 248.10 L402.40 261.60 L403.90 268.40 L406.90 269.90 L409.90 271.40 L412.10 267.60 L414.40 261.60 L416.70 255.60 L418.20 248.10 L420.00 240.60 L421.90 243.60 L423.40 248.10 L425.00 255.60 L426.40 263.10 L428.80 266.10 L431.00 263.10 L433.30 261.60 L435.50 258.60 L438.50 258.60 L441.50 260.10 L443.80 263.10 L446.10 258.60 L448.30 257.10 L450.60 258.60 L452.80 261.60 L455.10 264.60 L457.30 266.10 L459.60 269.10 L461.80 273.70 L464.10 276.70 L467.10 279.70 L469.40 282.70 L471.60 285.70 L473.10 288.00" fill="none" stroke="#000" stroke-width="1.4" stroke-linejoin="round"/>
<path d="M360.30 287.70 L360.60 288.00 L360.90 287.33 L361.20 287.48 L361.50 286.24 L361.80 287.46 L362.10 286.28 L362.40 287.34 L362.70 286.14 L363.00 286.10 L363.30 284.78 L363.60 286.19 L363.90 283.72 L364.20 284.65 L364.50 283.27 L364.80 284.26 L365.10 282.42 L365.40 283.09 L365.70 280.57 L366.00 283.63 L366.30 280.01 L366.60 281.27 L366.90 279.72 L367.20 280.99 L367.50 279.66 L367.80 281.57 L368.10 279.48 L368.40 280.22 L368.70 278.83 L369.00 279.34 L369.30 276.15 L369.60 280.74 L369.90 278.17 L370.20 280.55 L370.50 275.62 L370.80 278.79 L371.10 274.04 L371.40 277.52 L371.70 275.14 L372.00 276.71 L372.30 273.61 L372.60 276.85 L372.90 274.03 L373.20 277.68 L373.50 275.26 L373.80 277.24 L374.10 276.40 L374.40 277.19 L374.70 275.18 L375.00 277.38 L375.30 276.25 L375.60 277.12 L375.90 276.40 L376.20 277.52 L376.50 275.96 L376.80 277.36 L377.10 275.66 L377.40 277.28 L377.70 273.06 L378.00 277.05 L378.30 273.87 L378.60 276.93 L378.90 271.97 L379.20 275.66 L379.50 269.68 L379.80 272.33 L380.10 269.84 L380.40 269.98 L380.70 268.72 L381.00 271.13 L381.30 265.66 L381.60 267.97 L381.90 264.27 L382.20 268.58 L382.50 261.85 L382.80 265.82 L383.10 264.23 L383.40 265.41 L383.70 260.40 L384.00 263.58 L384.30 262.61 L384.60 263.35 L384.90 259.07 L385.20 260.18 L385.50 255.89 L385.80 260.03 L386.10 255.92 L386.40 257.06 L386.70 252.83 L387.00 256.61 L387.30 252.24 L387.60 255.55 L387.90 249.06 L388.20 252.27 L388.50 247.94 L388.80 251.44 L389.10 248.10 L389.40 250.82 L389.70 244.37 L390.00 249.82 L390.30 243.34 L390.60 247.05 L390.90 241.71 L391.20 242.02 L391.50 236.31 L391.80 239.62 L392.10 233.32 L392.40 236.86 L392.70 232.90 L393.00 234.81 L393.30 225.52 L393.60 228.86 L393.90 223.45 L394.20 226.34 L394.50 221.97 L394.80 223.22 L395.10 221.47 L395.40 221.88 L395.70 219.56 L396.00 225.76 L396.30 221.02 L396.60 224.41 L396.90 222.08 L397.20 228.93 L397.50 224.63 L397.80 229.66 L398.10 227.70 L398.40 234.88 L398.70 233.93 L399.00 236.71 L399.30 235.61 L399.60 243.73 L399.90 238.63 L400.20 244.28 L400.50 242.16 L400.80 250.66 L401.10 247.16 L401.40 254.84 L401.70 254.79 L402.00 253.17 L402.30 258.76 L402.60 265.84 L402.90 260.77 L403.20 267.40 L403.50 263.04 L403.80 271.57 L404.10 265.95 L404.40 271.25 L404.70 268.50 L405.00 270.52 L405.30 266.12 L405.60 270.95 L405.90 267.26 L406.20 269.85 L406.50 269.15 L406.80 270.99 L407.10 269.21 L407.40 271.27 L407.70 266.60 L408.00 270.88 L408.30 270.35 L408.60 271.56 L408.90 270.84 L409.20 271.24 L409.50 269.05 L409.80 273.86 L410.10 268.39 L410.40 273.78 L410.70 269.81 L411.00 271.47 L411.30 266.01 L411.60 271.15 L411.90 266.34 L412.20 268.41 L412.50 264.45 L412.80 266.84 L413.10 264.62 L413.40 264.82 L413.70 259.76 L414.00 265.71 L414.30 260.70 L414.60 262.76 L414.90 257.62 L415.20 261.11 L415.50 257.84 L415.80 260.56 L416.10 256.78 L416.40 259.49 L416.70 254.00 L417.00 254.10 L417.30 251.67 L417.60 245.85 L417.90 246.76 L418.20 250.92 L418.50 244.46 L418.80 248.63 L419.10 241.42 L419.40 245.20 L419.70 239.50 L420.00 240.68 L420.30 239.78 L420.60 242.64 L420.90 240.50 L421.20 244.75 L421.50 239.99 L421.80 245.48 L422.10 241.45 L422.40 248.49 L422.70 243.89 L423.00 247.82 L423.30 245.90 L423.60 249.20 L423.90 247.63 L424.20 255.07 L424.50 250.33 L424.80 249.25 L425.10 253.34 L425.40 253.40 L425.70 256.60 L426.00 262.49 L426.30 262.06 L426.60 263.68 L426.90 261.50 L427.20 267.66 L427.50 268.41 L427.80 265.76 L428.10 263.63 L428.40 268.91 L428.70 265.84 L429.00 266.60 L429.30 263.52 L429.60 265.57 L429.90 260.72 L430.20 266.83 L430.50 261.25 L430.80 265.67 L431.10 261.26 L431.40 259.30 L431.70 257.77 L432.00 265.18 L432.30 259.68 L432.60 262.60 L432.90 259.44 L433.20 262.20 L433.50 259.34 L433.80 263.62 L434.10 260.21 L434.40 262.05 L434.70 257.34 L435.00 260.46 L435.30 256.02 L435.60 260.28 L435.90 256.05 L436.20 259.60 L436.50 256.84 L436.80 259.65 L437.10 255.53 L437.40 258.60 L437.70 256.40 L438.00 259.52 L438.30 255.97 L438.60 259.18 L438.90 261.46 L439.20 260.34 L439.50 256.58 L439.80 259.92 L440.10 256.06 L440.40 262.27 L440.70 256.98 L441.00 261.14 L441.30 258.69 L441.60 263.13 L441.90 257.30 L442.20 264.62 L442.50 256.34 L442.80 262.88 L443.10 260.60 L443.40 263.31 L443.70 257.05 L444.00 264.50 L444.30 258.49 L444.60 262.00 L444.90 263.40 L445.20 260.99 L445.50 256.74 L445.80 262.01 L446.10 255.13 L446.40 253.14 L446.70 255.27 L447.00 258.93 L447.30 255.82 L447.60 257.94 L447.90 257.16 L448.20 258.52 L448.50 254.07 L448.80 260.28 L449.10 254.02 L449.40 258.07 L449.70 257.09 L450.00 261.53 L450.30 257.28 L450.60 258.84 L450.90 256.54 L451.20 259.88 L451.50 259.43 L451.80 261.50 L452.10 260.30 L452.40 262.57 L452.70 259.51 L453.00 264.45 L453.30 260.48 L453.60 264.16 L453.90 261.46 L454.20 264.55 L454.50 258.29 L454.80 265.55 L455.10 262.25 L455.40 266.16 L455.70 263.43 L456.00 268.80 L456.30 264.61 L456.60 269.15 L456.90 262.56 L457.20 268.76 L457.50 263.14 L457.80 268.61 L458.10 266.36 L458.40 270.81 L458.70 266.26 L459.00 269.04 L459.30 265.52 L459.60 270.52 L459.90 268.45 L460.20 271.35 L460.50 269.78 L460.80 272.17 L461.10 269.76 L461.40 273.85 L461.70 268.77 L462.00 275.73 L462.30 270.82 L462.60 277.18 L462.90 273.56 L463.20 276.30 L463.50 272.27 L463.80 277.53 L464.10 275.16 L464.40 278.47 L464.70 275.95 L465.00 279.07 L465.30 275.04 L465.60 278.99 L465.90 277.06 L466.20 280.16 L466.50 277.04 L466.80 280.39 L467.10 277.50 L467.40 282.28 L467.70 279.49 L468.00 281.48 L468.30 279.30 L468.60 281.82 L468.90 281.25 L469.20 283.95 L469.50 282.36 L469.80 284.67 L470.10 279.14 L470.40 285.20 L470.70 283.62 L471.00 285.88 L471.30 285.20 L471.60 286.33 L471.90 285.89 L472.20 286.86 L472.50 287.06 L472.80 281.84" fill="none" stroke="#000" stroke-width="0.85" stroke-linejoin="miter"/>
<path d="M368.30 376.30 L370.50 371.20 L372.80 366.70 L375.00 362.90 L376.50 356.10 L378.00 348.60 L379.50 339.60 L381.10 327.60 L382.30 316.00 L383.30 321.60 L384.80 330.60 L386.30 339.60 L387.80 345.60 L389.30 348.60 L390.80 350.90 L392.30 353.10 L394.60 350.10 L396.80 342.60 L399.10 333.60 L400.60 327.60 L402.10 314.00 L403.60 308.00 L405.10 308.50 L406.60 317.00 L408.10 329.10 L409.60 341.10 L411.10 350.10 L413.40 354.60 L414.90 352.40 L416.40 345.10 L418.60 347.10 L421.70 344.10 L423.00 343.00 L425.30 344.10 L426.80 348.60 L429.00 353.90 L431.30 351.60 L433.50 348.60 L435.80 344.60 L437.30 348.60 L438.80 354.60 L441.10 356.10 L442.60 357.60 L444.80 360.70 L447.10 363.70 L449.30 365.90 L451.60 368.90 L453.80 371.20 L456.80 374.20 L459.80 376.30" fill="none" stroke="#000" stroke-width="1.4" stroke-linejoin="round"/>
<path d="M368.30 376.18 L368.60 376.30 L368.90 374.60 L369.20 375.05 L369.50 373.17 L369.80 373.27 L370.10 371.97 L370.40 372.82 L370.70 370.36 L371.00 371.44 L371.30 368.47 L371.60 369.43 L371.90 368.16 L372.20 368.10 L372.50 364.50 L372.80 369.71 L373.10 364.24 L373.40 367.98 L373.70 363.06 L374.00 365.30 L374.30 360.78 L374.60 364.33 L374.90 362.24 L375.20 363.90 L375.50 357.52 L375.80 361.95 L376.10 355.92 L376.40 358.38 L376.70 353.07 L377.00 355.44 L377.30 349.84 L377.60 352.40 L377.90 345.81 L378.20 347.65 L378.50 342.93 L378.80 343.87 L379.10 338.41 L379.40 341.52 L379.70 334.53 L380.00 337.00 L380.30 331.21 L380.60 332.32 L380.90 328.97 L381.20 330.37 L381.50 322.66 L381.80 322.19 L382.10 317.80 L382.40 317.32 L382.70 314.92 L383.00 320.86 L383.30 318.11 L383.60 326.29 L383.90 323.07 L384.20 330.58 L384.50 326.87 L384.80 331.99 L385.10 328.75 L385.40 337.14 L385.70 332.52 L386.00 338.74 L386.30 337.82 L386.60 341.80 L386.90 341.24 L387.20 343.73 L387.50 342.70 L387.80 347.05 L388.10 345.22 L388.40 348.42 L388.70 346.56 L389.00 350.76 L389.30 346.06 L389.60 351.52 L389.90 348.18 L390.20 352.48 L390.50 350.26 L390.80 351.91 L391.10 347.79 L391.40 352.02 L391.70 348.67 L392.00 353.03 L392.30 351.48 L392.60 356.03 L392.90 355.45 L393.20 352.44 L393.50 346.18 L393.80 353.03 L394.10 349.63 L394.40 351.30 L394.70 352.72 L395.00 352.49 L395.30 344.29 L395.60 348.20 L395.90 344.35 L396.20 344.76 L396.50 339.99 L396.80 345.28 L397.10 339.44 L397.40 341.94 L397.70 338.81 L398.00 340.10 L398.30 335.12 L398.60 339.23 L398.90 337.93 L399.20 334.67 L399.50 331.54 L399.80 331.70 L400.10 326.33 L400.40 328.74 L400.70 321.63 L401.00 326.44 L401.30 319.64 L401.60 321.36 L401.90 313.14 L402.20 315.02 L402.50 310.94 L402.80 313.00 L403.10 308.68 L403.40 311.95 L403.70 307.37 L404.00 308.64 L404.30 307.19 L404.60 310.36 L404.90 306.45 L405.20 310.91 L405.50 309.36 L405.80 313.13 L406.10 314.08 L406.40 316.12 L406.70 315.57 L407.00 321.40 L407.30 320.84 L407.60 326.40 L407.90 324.24 L408.20 331.24 L408.50 328.50 L408.80 334.76 L409.10 333.69 L409.40 340.26 L409.70 341.27 L410.00 344.36 L410.30 343.04 L410.60 350.04 L410.90 345.97 L411.20 350.59 L411.50 347.76 L411.80 353.72 L412.10 350.01 L412.40 354.08 L412.70 352.73 L413.00 356.20 L413.30 354.10 L413.60 354.65 L413.90 352.99 L414.20 353.83 L414.50 351.20 L414.80 352.79 L415.10 347.73 L415.40 353.38 L415.70 347.47 L416.00 350.74 L416.30 342.54 L416.60 345.52 L416.90 344.63 L417.20 347.77 L417.50 342.58 L417.80 347.99 L418.10 342.98 L418.40 348.22 L418.70 344.88 L419.00 349.38 L419.30 345.84 L419.60 348.19 L419.90 344.70 L420.20 346.68 L420.50 341.61 L420.80 345.89 L421.10 343.90 L421.40 345.35 L421.70 344.06 L422.00 346.35 L422.30 340.18 L422.60 344.17 L422.90 342.21 L423.20 346.51 L423.50 341.33 L423.80 345.10 L424.10 343.34 L424.40 345.40 L424.70 341.38 L425.00 347.51 L425.30 342.18 L425.60 346.17 L425.90 349.08 L426.20 348.41 L426.50 346.47 L426.80 344.86 L427.10 345.68 L427.40 351.73 L427.70 349.30 L428.00 353.01 L428.30 349.54 L428.60 354.87 L428.90 350.75 L429.20 355.53 L429.50 349.81 L429.80 355.81 L430.10 351.43 L430.40 354.30 L430.70 350.73 L431.00 351.97 L431.30 350.50 L431.60 353.95 L431.90 347.19 L432.20 351.26 L432.50 349.76 L432.80 353.07 L433.10 346.89 L433.40 342.95 L433.70 348.10 L434.00 349.66 L434.30 343.90 L434.60 347.01 L434.90 346.12 L435.20 347.20 L435.50 343.85 L435.80 347.66 L436.10 342.34 L436.40 341.91 L436.70 343.69 L437.00 352.19 L437.30 345.67 L437.60 350.75 L437.90 347.90 L438.20 353.78 L438.50 350.83 L438.80 356.55 L439.10 352.90 L439.40 350.99 L439.70 354.50 L440.00 357.38 L440.30 352.07 L440.60 357.39 L440.90 355.97 L441.20 359.95 L441.50 353.32 L441.80 357.09 L442.10 353.35 L442.40 359.70 L442.70 356.29 L443.00 359.67 L443.30 355.51 L443.60 360.44 L443.90 358.29 L444.20 362.58 L444.50 358.02 L444.80 364.13 L445.10 358.97 L445.40 362.41 L445.70 358.52 L446.00 362.68 L446.30 361.22 L446.60 366.66 L446.90 360.99 L447.20 367.10 L447.50 363.70 L447.80 366.12 L448.10 363.67 L448.40 366.05 L448.70 364.84 L449.00 368.38 L449.30 365.06 L449.60 366.59 L449.90 360.92 L450.20 367.89 L450.50 365.56 L450.80 368.58 L451.10 366.93 L451.40 369.12 L451.70 367.00 L452.00 370.83 L452.30 369.04 L452.60 371.60 L452.90 369.21 L453.20 370.77 L453.50 370.59 L453.80 371.25 L454.10 370.28 L454.40 373.13 L454.70 371.04 L455.00 373.28 L455.30 371.85 L455.60 374.09 L455.90 372.39 L456.20 374.43 L456.50 373.43 L456.80 374.96 L457.10 374.10 L457.40 374.67 L457.70 374.68 L458.00 375.29 L458.30 375.23 L458.60 376.12 L458.90 374.70 L459.20 376.30 L459.50 375.95" fill="none" stroke="#000" stroke-width="0.85" stroke-linejoin="miter"/>
<path d="M407.00 145.00V139.50M433.30 152.00V144.50M461.10 141.00V132.50M419.70 177.00V185.00M422.70 177.00V186.70M419.70 241.00V227.80M430.20 264.00V273.70M393.60 222.00V219.00M423.80 343.00V332.80M393.10 352.00V359.20M403.80 309.00V306.00M429.50 264.00V273.70" stroke="#000" stroke-width="0.9" fill="none"/>
<path d="M640.00 115.20 L648.50 114.80 L656.00 114.50 L662.90 114.00 L667.10 112.10 L671.40 110.00 L675.00 109.30 L677.90 105.70 L680.70 103.60 L683.60 100.00 L685.70 96.40 L687.90 90.00 L689.30 85.70 L690.70 82.90 L692.90 75.70 L694.30 71.40 L695.70 64.30 L696.90 58.60 L697.90 53.00 L698.60 47.00 L700.00 50.00 L701.00 48.57" fill="none" stroke="#000" stroke-width="1.3" stroke-linejoin="round"/>
<path d="M701.00 48.57 L701.40 48.00 L702.60 54.30 L703.60 62.90 L704.60 71.40 L705.40 80.00 L706.40 88.60 L707.40 97.10 L708.60 104.30 L710.00 111.40 L711.10 115.20" fill="none" stroke="#000" stroke-width="1.1" stroke-linejoin="round"/>
<path d="M640.00 115.02 L640.30 115.20 L640.60 114.94 L640.90 115.20 L641.20 114.60 L641.50 115.13 L641.80 115.20 L642.10 115.20 L642.40 114.14 L642.70 115.11 L643.00 114.52 L643.30 115.20 L643.60 114.86 L643.90 115.15 L644.20 114.51 L644.50 115.20 L644.80 115.20 L645.10 115.20 L645.40 113.90 L645.70 115.20 L646.00 114.29 L646.30 115.04 L646.60 114.00 L646.90 115.20 L647.20 114.42 L647.50 115.20 L647.80 113.76 L648.10 114.85 L648.40 114.03 L648.70 115.20 L649.00 114.19 L649.30 115.01 L649.60 114.15 L649.90 114.94 L650.20 114.36 L650.50 115.09 L650.80 114.38 L651.10 114.77 L651.40 113.84 L651.70 115.20 L652.00 113.69 L652.30 115.09 L652.60 113.60 L652.90 115.20 L653.20 114.21 L653.50 115.20 L653.80 114.51 L654.10 115.20 L654.40 111.34 L654.70 115.01 L655.00 114.46 L655.30 115.20 L655.60 113.71 L655.90 114.78 L656.20 113.92 L656.50 114.49 L656.80 113.54 L657.10 115.20 L657.40 113.94 L657.70 115.20 L658.00 113.78 L658.30 109.45 L658.60 114.29 L658.90 114.99 L659.20 113.64 L659.50 114.68 L659.80 113.25 L660.10 114.31 L660.40 114.15 L660.70 114.31 L661.00 113.43 L661.30 114.70 L661.60 113.56 L661.90 114.25 L662.20 113.64 L662.50 115.20 L662.80 113.17 L663.10 113.92 L663.40 113.71 L663.70 113.83 L664.00 113.23 L664.30 110.09 L664.60 112.26 L664.90 113.64 L665.20 111.94 L665.50 113.47 L665.80 111.89 L666.10 112.89 L666.40 111.85 L666.70 112.35 L667.00 111.09 L667.30 112.35 L667.60 111.74 L667.90 111.79 L668.20 110.73 L668.50 107.81 L668.80 110.66 L669.10 111.61 L669.40 110.91 L669.70 111.15 L670.00 109.58 L670.30 111.18 L670.60 109.83 L670.90 111.18 L671.20 109.97 L671.50 110.75 L671.80 108.51 L672.10 110.87 L672.40 108.72 L672.70 110.89 L673.00 109.28 L673.30 110.28 L673.60 108.18 L673.90 106.23 L674.20 108.78 L674.50 110.36 L674.80 108.81 L675.10 110.52 L675.40 108.60 L675.70 109.86 L676.00 107.34 L676.30 109.22 L676.60 105.06 L676.90 107.57 L677.20 106.17 L677.50 106.74 L677.80 105.04 L678.10 108.27 L678.40 104.03 L678.70 105.95 L679.00 103.68 L679.30 105.25 L679.60 104.31 L679.90 107.28 L680.20 103.91 L680.50 103.88 L680.80 101.01 L681.10 103.13 L681.40 102.39 L681.70 103.99 L682.00 100.65 L682.30 104.46 L682.60 97.73 L682.90 102.86 L683.20 97.61 L683.50 103.45 L683.80 99.59 L684.10 99.43 L684.40 95.94 L684.70 101.33 L685.00 95.37 L685.30 99.97 L685.60 95.60 L685.90 96.89 L686.20 91.74 L686.50 94.32 L686.80 90.76 L687.10 88.59 L687.40 89.00 L687.70 91.15 L688.00 86.34 L688.30 90.24 L688.60 85.23 L688.90 87.21 L689.20 82.18 L689.50 87.56 L689.80 82.15 L690.10 84.68 L690.40 80.60 L690.70 85.35 L691.00 79.12 L691.30 82.86 L691.60 76.46 L691.90 82.36 L692.20 73.96 L692.50 79.19 L692.80 73.70 L693.10 78.44 L693.40 70.99 L693.70 76.84 L694.00 69.53 L694.30 74.58 L694.60 69.58 L694.90 69.00 L695.20 63.90 L695.50 61.36 L695.80 63.73 L696.10 63.16 L696.40 57.64 L696.70 62.77 L697.00 57.60 L697.30 57.89 L697.60 51.90 L697.90 55.34 L698.20 48.88 L698.50 49.62 L698.80 45.49 L699.10 48.20 L699.40 46.60 L699.70 52.01 L700.00 46.42 L700.30 45.62 L700.60 47.07 L700.90 49.42 L701.20 45.64 L701.50 43.96 L701.80 49.47 L702.10 52.17 L702.40 52.50 L702.70 56.25 L703.00 57.27 L703.30 61.31 L703.60 61.73 L703.90 66.52 L704.20 67.90 L704.50 71.35 L704.80 72.50 L705.10 77.63 L705.40 79.73 L705.70 83.21 L706.00 84.89 L706.30 88.16 L706.60 89.84 L706.90 93.03 L707.20 94.52 L707.50 97.86 L707.80 98.67 L708.10 102.21 L708.40 102.54 L708.70 105.86 L709.00 105.74 L709.30 108.13 L709.60 108.91 L709.90 111.10 L710.20 112.01 L710.50 113.13 L710.80 113.99 L711.10 115.20" fill="none" stroke="#000" stroke-width="0.85" stroke-linejoin="miter"/>
<path d="M650.00 202.30 L656.00 202.00 L660.00 201.60 L664.30 200.10 L668.70 198.70 L673.00 197.90 L677.40 196.50 L681.70 195.80 L685.30 195.00 L689.00 193.60 L691.10 190.70 L693.30 189.30 L695.50 184.90 L697.60 182.00 L699.80 177.70 L701.30 171.90 L702.70 167.50 L704.20 161.70 L705.60 157.40 L707.80 152.30 L709.20 148.00 L710.40 143.00 L711.00 144.40 L711.00 144.40" fill="none" stroke="#000" stroke-width="1.3" stroke-linejoin="round"/>
<path d="M711.00 144.40 L711.00 144.40 L712.10 148.70 L713.60 154.50 L715.00 156.00 L716.50 158.90 L717.90 167.50 L719.40 176.20 L720.80 182.00 L722.30 187.80 L723.70 193.60 L725.20 199.40 L726.30 202.30" fill="none" stroke="#000" stroke-width="1.1" stroke-linejoin="round"/>
<path d="M650.00 201.27 L650.30 202.30 L650.60 202.07 L650.90 202.30 L651.20 201.28 L651.50 202.30 L651.80 201.56 L652.10 202.30 L652.40 202.30 L652.70 202.30 L653.00 201.23 L653.30 202.30 L653.60 201.08 L653.90 202.30 L654.20 201.81 L654.50 202.30 L654.80 201.03 L655.10 202.20 L655.40 201.31 L655.70 202.07 L656.00 201.97 L656.30 202.30 L656.60 201.50 L656.90 202.30 L657.20 201.48 L657.50 202.17 L657.80 201.23 L658.10 202.30 L658.40 201.66 L658.70 202.11 L659.00 201.26 L659.30 202.30 L659.60 201.21 L659.90 202.30 L660.20 200.94 L660.50 201.78 L660.80 196.83 L661.10 201.92 L661.40 196.54 L661.70 202.00 L662.00 199.99 L662.30 201.36 L662.60 199.62 L662.90 201.10 L663.20 199.79 L663.50 201.23 L663.80 199.62 L664.10 200.19 L664.40 199.38 L664.70 200.16 L665.00 199.41 L665.30 199.83 L665.60 199.31 L665.90 199.82 L666.20 198.56 L666.50 199.70 L666.80 198.80 L667.10 199.58 L667.40 198.11 L667.70 199.06 L668.00 195.20 L668.30 199.24 L668.60 197.96 L668.90 198.93 L669.20 195.71 L669.50 199.55 L669.80 198.43 L670.10 195.86 L670.40 193.42 L670.70 199.34 L671.00 197.63 L671.30 198.64 L671.60 194.06 L671.90 198.33 L672.20 196.91 L672.50 198.46 L672.80 197.27 L673.10 198.24 L673.40 196.63 L673.70 198.64 L674.00 196.20 L674.30 198.07 L674.60 196.27 L674.90 198.28 L675.20 194.11 L675.50 197.91 L675.80 196.77 L676.10 198.31 L676.40 195.95 L676.70 196.76 L677.00 195.46 L677.30 197.96 L677.60 196.35 L677.90 197.31 L678.20 194.75 L678.50 197.44 L678.80 195.67 L679.10 197.94 L679.40 194.52 L679.70 197.33 L680.00 195.55 L680.30 196.14 L680.60 193.22 L680.90 196.78 L681.20 195.54 L681.50 196.64 L681.80 194.19 L682.10 196.78 L682.40 193.73 L682.70 195.66 L683.00 194.46 L683.30 195.71 L683.60 194.73 L683.90 195.41 L684.20 193.51 L684.50 196.20 L684.80 191.66 L685.10 197.04 L685.40 193.95 L685.70 194.96 L686.00 192.90 L686.30 195.45 L686.60 194.48 L686.90 194.76 L687.20 192.41 L687.50 195.32 L687.80 197.22 L688.10 194.70 L688.40 192.08 L688.70 194.58 L689.00 192.15 L689.30 194.30 L689.60 191.18 L689.90 193.14 L690.20 189.51 L690.50 193.24 L690.80 189.19 L691.10 191.54 L691.40 189.25 L691.70 191.66 L692.00 188.04 L692.30 191.43 L692.60 186.48 L692.90 192.35 L693.20 186.91 L693.50 189.74 L693.80 186.96 L694.10 183.18 L694.40 186.53 L694.70 188.33 L695.00 185.54 L695.30 187.02 L695.60 184.46 L695.90 185.26 L696.20 182.31 L696.50 185.60 L696.80 182.46 L697.10 182.87 L697.40 182.02 L697.70 183.75 L698.00 178.96 L698.30 182.18 L698.60 179.21 L698.90 175.56 L699.20 178.35 L699.50 181.62 L699.80 174.44 L700.10 178.48 L700.40 171.95 L700.70 175.85 L701.00 172.79 L701.30 174.98 L701.60 169.92 L701.90 172.87 L702.20 168.05 L702.50 168.28 L702.80 165.98 L703.10 167.59 L703.40 164.72 L703.70 164.57 L704.00 159.61 L704.30 162.50 L704.60 157.83 L704.90 159.84 L705.20 157.83 L705.50 159.11 L705.80 153.70 L706.10 159.48 L706.40 155.51 L706.70 157.76 L707.00 150.97 L707.30 153.55 L707.60 151.65 L707.90 154.98 L708.20 149.81 L708.50 150.97 L708.80 147.74 L709.10 150.67 L709.40 143.96 L709.70 147.46 L710.00 143.42 L710.30 143.86 L710.60 142.62 L710.90 145.44 L711.20 141.70 L711.50 149.63 L711.80 147.22 L712.10 149.06 L712.40 148.52 L712.70 151.09 L713.00 151.34 L713.30 153.94 L713.60 154.50 L713.90 155.81 L714.20 154.44 L714.50 156.21 L714.80 155.05 L715.10 156.66 L715.40 156.55 L715.70 158.13 L716.00 157.13 L716.30 158.85 L716.60 158.66 L716.90 162.35 L717.20 162.36 L717.50 165.48 L717.80 166.34 L718.10 169.27 L718.40 170.26 L718.70 172.86 L719.00 173.32 L719.30 176.73 L719.60 176.60 L719.90 179.49 L720.20 179.05 L720.50 181.28 L720.80 181.61 L721.10 184.57 L721.40 184.22 L721.70 186.87 L722.00 186.05 L722.30 188.90 L722.60 188.33 L722.90 191.41 L723.20 190.97 L723.50 193.20 L723.80 193.50 L724.10 195.82 L724.40 196.05 L724.70 197.75 L725.00 198.21 L725.30 199.90 L725.60 200.22 L725.90 201.50 L726.20 201.87" fill="none" stroke="#000" stroke-width="0.85" stroke-linejoin="miter"/>
<path d="M710.40 145.00V132.80M698.60 50.00V45.40" stroke="#000" stroke-width="0.9" fill="none"/>
<path d="M676.00 279.72 L676.50 279.40 L677.00 279.07 L677.50 278.74 L678.00 278.41 L678.50 278.08 L679.00 277.76 L679.50 277.43 L680.00 277.10 L680.50 276.77 L681.00 276.44 L681.50 276.12 L682.00 275.79 L682.50 275.46 L683.00 275.13 L683.50 274.80 L684.00 274.47 L684.50 274.04 L685.00 273.60 L685.50 273.16 L686.00 272.72 L686.50 272.29 L687.00 271.85 L687.50 271.25 L688.00 270.66 L688.50 270.06 L689.00 269.46 L689.50 268.26 L690.00 266.64 L690.50 265.02 L691.00 264.48 L691.50 263.93 L692.00 263.38 L692.50 262.84 L693.00 262.25 L693.50 261.50 L694.00 260.75 L694.50 260.00 L695.00 259.25 L695.50 257.85 L696.00 256.45 L696.50 255.05 L697.00 253.55 L697.50 252.05 L698.00 250.43 L698.50 248.33 L699.00 246.23 L699.50 244.40 L700.00 243.65 L700.50 242.90 L701.00 242.15 L701.50 241.40 L702.00 238.95 L702.50 236.50 L703.00 234.05 L703.50 231.05 L704.00 229.49 L704.50 228.88 L705.00 228.27 L705.50 227.67 L706.00 227.06 L706.50 227.33 L707.00 228.91 L707.50 230.69 L708.00 232.79 L708.50 234.89 L708.50 238.49 L708.00 236.39 L707.50 234.29 L707.00 232.51 L706.50 230.93 L706.00 230.66 L705.50 231.27 L705.00 231.88 L704.50 232.48 L704.00 233.09 L703.50 234.65 L703.00 237.65 L702.50 240.10 L702.00 242.55 L701.50 245.00 L701.00 245.75 L700.50 246.50 L700.00 247.25 L699.50 248.00 L699.00 249.83 L698.50 251.93 L698.00 254.03 L697.50 255.65 L697.00 257.15 L696.50 258.65 L696.00 260.05 L695.50 261.45 L695.00 262.85 L694.50 263.60 L694.00 264.35 L693.50 265.10 L693.00 265.85 L692.50 266.44 L692.00 266.98 L691.50 267.53 L691.00 268.08 L690.50 268.62 L690.00 270.24 L689.50 271.86 L689.00 273.06 L688.50 273.66 L688.00 274.26 L687.50 274.85 L687.00 275.45 L686.50 275.89 L686.00 276.32 L685.50 276.76 L685.00 277.20 L684.50 277.64 L684.00 278.07 L683.50 278.40 L683.00 278.73 L682.50 279.06 L682.00 279.39 L681.50 279.72 L681.00 280.04 L680.50 280.37 L680.00 280.70 L679.50 281.03 L679.00 281.36 L678.50 281.68 L678.00 282.01 L677.50 282.34 L677.00 282.67 L676.50 283.00 L676.00 283.32Z" fill="#000" stroke="none"/>
<path d="M706.40 232.00V220.00M703.80 234.00V225.20" stroke="#000" stroke-width="0.9" fill="none"/>
<path d="M664.00 286.77 L667.50 285.20 L672.00 284.15 L676.00 281.52 L680.00 278.90 L684.00 276.27 L687.00 273.65 L689.20 271.02 L690.50 266.82 L692.90 264.20 L695.00 261.05 L696.50 256.85 L697.90 252.65 L699.40 246.35 L701.50 243.20 L703.00 235.85 L703.70 231.65 L705.00 230.07 L706.30 228.50 L707.30 231.65 L708.80 237.95 L710.20 247.40 L711.70 256.85 L713.10 267.35 L714.60 275.75 L716.00 284.67 L717.50 289.40" fill="none" stroke="#000" stroke-width="1.6" stroke-linejoin="round"/>
<path d="M664.00 289.40 V289.40 H664.45 V289.40 H664.90 V289.40 H665.35 V284.15 H665.80 V289.40 H666.25 V289.40 H666.70 V289.40 H667.15 V284.15 H667.60 V289.40 H668.05 V284.15 H668.50 V284.15 H668.95 V289.40 H669.40 V284.15 H669.85 V284.15 H670.30 V284.15 H670.75 V278.90 H671.20 V289.40 H671.65 V289.40 H672.10 V278.90 H672.55 V284.15 H673.00 V289.40 H673.45 V284.15 H673.90 V284.15 H674.35 V278.90 H674.80 V284.15 H675.25 V284.15 H675.70 V278.90 H676.15 V278.90 H676.60 V273.65 H677.05 V278.90 H677.50 V284.15 H677.95 V284.15 H678.40 V273.65 H678.85 V273.65 H679.30 V284.15 H679.75 V278.90 H680.20 V273.65 H680.65 V278.90 H681.10 V278.90 H681.55 V273.65 H682.00 V273.65 H682.45 V278.90 H682.90 V273.65 H683.35 V278.90 H683.80 V284.15 H684.25 V278.90 H684.70 V278.90 H685.15 V278.90 H685.60 V273.65 H686.05 V268.40 H686.50 V268.40 H686.95 V268.40 H687.40 V268.40 H687.85 V268.40 H688.30 V273.65 H688.75 V273.65 H689.20 V268.40 H689.65 V268.40 H690.10 V268.40 H690.55 V273.65 H691.00 V268.40 H691.45 V263.15 H691.90 V263.15 H692.35 V263.15 H692.80 V268.40 H693.25 V263.15 H693.70 V257.90 H694.15 V263.15 H694.60 V257.90 H695.05 V263.15 H695.50 V257.90 H695.95 V252.65 H696.40 V257.90 H696.85 V252.65 H697.30 V252.65 H697.75 V257.90 H698.20 V257.90 H698.65 V242.15 H699.10 V252.65 H699.55 V247.40 H700.00 V247.40 H700.45 V242.15 H700.90 V242.15 H701.35 V242.15 H701.80 V242.15 H702.25 V236.90 H702.70 V242.15 H703.15 V236.90 H703.60 V231.65 H704.05 V231.65 H704.50 V236.90 H704.95 V236.90 H705.40 V231.65 H705.85 V226.40 H706.30 V226.40 H706.75 V226.40 H707.20 V226.40 H707.65 V236.90 H708.10 V231.65 H708.55 V231.65 H709.00 V242.15 H709.45 V247.40 H709.90 V247.40 H710.35 V252.65 H710.80 V252.65 H711.25 V257.90 H711.70 V263.15 H712.15 V257.90 H712.60 V268.40 H713.05 V263.15 H713.50 V273.65 H713.95 V273.65 H714.40 V268.40 H714.85 V278.90 H715.30 V284.15 H715.75 V284.15 H716.20 V284.15 H716.65 V284.15 H717.10 V284.15 H717.55 V289.40" fill="none" stroke="#000" stroke-width="0.9"/>
<path d="M665.00 365.51 L665.50 365.14 L666.00 364.77 L666.50 364.40 L667.00 364.03 L667.50 363.66 L668.00 363.28 L668.50 362.82 L669.00 362.36 L669.50 361.90 L670.00 361.43 L670.50 360.97 L671.00 360.51 L671.50 360.04 L672.00 359.58 L672.50 359.12 L673.00 358.65 L673.50 358.19 L674.00 357.73 L674.50 357.26 L675.00 356.80 L675.50 356.34 L676.00 355.88 L676.50 355.41 L677.00 354.95 L677.50 354.49 L678.00 354.02 L678.50 353.56 L679.00 353.10 L679.50 352.63 L680.00 352.17 L680.50 351.06 L681.00 349.95 L681.50 348.84 L682.00 347.72 L682.50 346.74 L683.00 345.75 L683.50 344.76 L684.00 343.77 L684.50 342.78 L685.00 341.80 L685.50 340.44 L686.00 339.08 L686.50 337.72 L687.00 336.36 L687.50 335.00 L688.00 333.64 L688.50 329.94 L689.00 326.23 L689.50 322.53 L690.00 316.23 L690.50 309.93 L691.00 308.08 L691.50 306.23 L692.00 307.71 L692.50 309.19 L693.00 312.16 L693.50 315.12 L694.00 317.59 L694.50 320.06 L695.00 322.53 L695.00 328.53 L694.50 326.06 L694.00 323.59 L693.50 321.12 L693.00 318.16 L692.50 315.19 L692.00 313.71 L691.50 312.23 L691.00 314.08 L690.50 315.93 L690.00 322.23 L689.50 328.53 L689.00 332.23 L688.50 335.94 L688.00 339.64 L687.50 341.00 L687.00 342.36 L686.50 343.72 L686.00 345.08 L685.50 346.44 L685.00 347.80 L684.50 348.78 L684.00 349.77 L683.50 350.76 L683.00 351.75 L682.50 352.74 L682.00 353.72 L681.50 354.84 L681.00 355.95 L680.50 357.06 L680.00 358.17 L679.50 358.63 L679.00 359.10 L678.50 359.56 L678.00 360.02 L677.50 360.49 L677.00 360.95 L676.50 361.41 L676.00 361.88 L675.50 362.34 L675.00 362.80 L674.50 363.26 L674.00 363.73 L673.50 364.19 L673.00 364.65 L672.50 365.12 L672.00 365.58 L671.50 366.04 L671.00 366.51 L670.50 366.97 L670.00 367.43 L669.50 367.90 L669.00 368.36 L668.50 368.82 L668.00 369.28 L667.50 369.66 L667.00 370.03 L666.50 370.40 L666.00 370.77 L665.50 371.14 L665.00 371.51Z" fill="#000" stroke="none"/>
<path d="M662.00 372.95 L665.00 368.51 L668.00 366.28 L672.00 362.58 L676.00 358.88 L680.00 355.17 L682.00 350.72 L685.00 344.80 L688.00 336.64 L689.50 325.53 L690.50 312.93 L691.50 309.23 L692.50 312.19 L693.50 318.12 L695.00 325.53 L697.00 335.90 L699.00 344.05 L700.50 355.17 L702.00 366.28 L703.60 377.40" fill="none" stroke="#000" stroke-width="1.6" stroke-linejoin="round"/>
<path d="M662.00 377.40 V377.40 H662.45 V377.40 H662.90 V377.40 H663.35 V362.58 H663.80 V369.99 H664.25 V362.58 H664.70 V369.99 H665.15 V369.99 H665.60 V362.58 H666.05 V369.99 H666.50 V362.58 H666.95 V362.58 H667.40 V362.58 H667.85 V369.99 H668.30 V369.99 H668.75 V369.99 H669.20 V362.58 H669.65 V369.99 H670.10 V362.58 H670.55 V362.58 H671.00 V369.99 H671.45 V355.17 H671.90 V369.99 H672.35 V355.17 H672.80 V355.17 H673.25 V369.99 H673.70 V355.17 H674.15 V355.17 H674.60 V369.99 H675.05 V355.17 H675.50 V362.58 H675.95 V355.17 H676.40 V355.17 H676.85 V347.76 H677.30 V362.58 H677.75 V362.58 H678.20 V355.17 H678.65 V355.17 H679.10 V362.58 H679.55 V347.76 H680.00 V347.76 H680.45 V355.17 H680.90 V362.58 H681.35 V347.76 H681.80 V355.17 H682.25 V347.76 H682.70 V347.76 H683.15 V347.76 H683.60 V355.17 H684.05 V355.17 H684.50 V347.76 H684.95 V340.35 H685.40 V347.76 H685.85 V340.35 H686.30 V340.35 H686.75 V332.94 H687.20 V332.94 H687.65 V340.35 H688.10 V340.35 H688.55 V340.35 H689.00 V340.35 H689.45 V318.12 H689.90 V310.71 H690.35 V310.71 H690.80 V318.12 H691.25 V310.71 H691.70 V318.12 H692.15 V303.30 H692.60 V310.71 H693.05 V310.71 H693.50 V318.12 H693.95 V318.12 H694.40 V318.12 H694.85 V318.12 H695.30 V332.94 H695.75 V332.94 H696.20 V325.53 H696.65 V332.94 H697.10 V340.35 H697.55 V340.35 H698.00 V332.94 H698.45 V347.76 H698.90 V347.76 H699.35 V340.35 H699.80 V355.17 H700.25 V347.76 H700.70 V362.58 H701.15 V355.17 H701.60 V362.58 H702.05 V362.58 H702.50 V362.58 H702.95 V369.99 H703.40 V377.40 H703.85 V377.40" fill="none" stroke="#000" stroke-width="0.9"/>
<path d="M662.50 446.63 L663.00 446.28 L663.50 446.02 L664.00 445.75 L664.50 445.49 L665.00 445.23 L665.50 444.97 L666.00 444.70 L666.50 444.44 L667.00 444.18 L667.50 443.76 L668.00 443.34 L668.50 442.92 L669.00 442.49 L669.50 442.07 L670.00 441.65 L670.50 441.23 L671.00 440.81 L671.50 440.39 L672.00 439.97 L672.50 437.87 L673.00 435.77 L673.50 433.66 L674.00 431.56 L674.50 430.86 L675.00 430.16 L675.50 429.46 L676.00 428.76 L676.50 428.06 L677.00 427.35 L677.50 426.30 L678.00 425.25 L678.50 424.20 L679.00 423.15 L679.50 422.10 L680.00 421.05 L680.50 419.99 L681.00 418.94 L681.50 417.89 L682.00 416.84 L682.50 415.79 L683.00 413.42 L683.50 411.06 L684.00 408.69 L684.50 406.33 L685.00 405.27 L685.50 404.22 L686.00 403.17 L686.50 402.12 L687.00 402.41 L687.50 402.70 L688.00 403.00 L688.50 407.38 L689.00 417.89 L689.00 426.89 L688.50 416.38 L688.00 412.00 L687.50 411.70 L687.00 411.41 L686.50 411.12 L686.00 412.17 L685.50 413.22 L685.00 414.27 L684.50 415.33 L684.00 417.69 L683.50 420.06 L683.00 422.42 L682.50 424.79 L682.00 425.84 L681.50 426.89 L681.00 427.94 L680.50 428.99 L680.00 430.05 L679.50 431.10 L679.00 432.15 L678.50 433.20 L678.00 434.25 L677.50 435.30 L677.00 436.35 L676.50 437.06 L676.00 437.76 L675.50 438.46 L675.00 439.16 L674.50 439.86 L674.00 440.56 L673.50 442.66 L673.00 444.77 L672.50 446.87 L672.00 448.97 L671.50 449.39 L671.00 449.81 L670.50 450.23 L670.00 450.65 L669.50 451.07 L669.00 451.49 L668.50 451.92 L668.00 452.34 L667.50 452.76 L667.00 453.18 L666.50 453.44 L666.00 453.70 L665.50 453.97 L665.00 454.23 L664.50 454.49 L664.00 454.75 L663.50 455.02 L663.00 455.28 L662.50 455.63Z" fill="#000" stroke="none"/>
<path d="M657.00 457.09 L660.00 452.88 L663.00 450.78 L667.00 448.68 L672.00 444.47 L674.00 436.06 L677.00 431.85 L680.00 425.55 L682.50 420.29 L684.50 410.83 L686.50 406.62 L688.30 407.67 L689.30 428.70 L690.30 449.73 L691.50 465.50" fill="none" stroke="#000" stroke-width="1.6" stroke-linejoin="round"/>
<path d="M657.00 465.50 V465.50 H657.45 V454.99 H657.90 V465.50 H658.35 V444.47 H658.80 V465.50 H659.25 V454.99 H659.70 V444.47 H660.15 V454.99 H660.60 V444.47 H661.05 V444.47 H661.50 V454.99 H661.95 V444.47 H662.40 V444.47 H662.85 V454.99 H663.30 V433.96 H663.75 V454.99 H664.20 V433.96 H664.65 V444.47 H665.10 V465.50 H665.55 V454.99 H666.00 V454.99 H666.45 V444.47 H666.90 V454.99 H667.35 V444.47 H667.80 V454.99 H668.25 V444.47 H668.70 V433.96 H669.15 V444.47 H669.60 V454.99 H670.05 V444.47 H670.50 V444.47 H670.95 V433.96 H671.40 V444.47 H671.85 V433.96 H672.30 V433.96 H672.75 V433.96 H673.20 V433.96 H673.65 V433.96 H674.10 V433.96 H674.55 V444.47 H675.00 V423.44 H675.45 V433.96 H675.90 V444.47 H676.35 V433.96 H676.80 V433.96 H677.25 V433.96 H677.70 V423.44 H678.15 V444.47 H678.60 V423.44 H679.05 V423.44 H679.50 V433.96 H679.95 V433.96 H680.40 V423.44 H680.85 V433.96 H681.30 V412.93 H681.75 V412.93 H682.20 V412.93 H682.65 V412.93 H683.10 V412.93 H683.55 V402.41 H684.00 V402.41 H684.45 V402.41 H684.90 V412.93 H685.35 V412.93 H685.80 V402.41 H686.25 V391.90 H686.70 V402.41 H687.15 V402.41 H687.60 V423.44 H688.05 V412.93 H688.50 V423.44 H688.95 V423.44 H689.40 V433.96 H689.85 V433.96 H690.30 V444.47 H690.75 V465.50 H691.20 V454.99 H691.65 V465.50" fill="none" stroke="#000" stroke-width="0.9"/>
<path d="M643.60 289.40V284.15" stroke="#000" stroke-width="0.9" fill="none"/>
<rect x="649.50" y="284.15" width="1.80" height="5.25" fill="#000"/>
<rect x="654.90" y="284.15" width="2.60" height="5.25" fill="#000"/>
<rect x="658.20" y="284.15" width="3.90" height="5.25" fill="#000"/>
<rect x="663.90" y="284.15" width="1.30" height="5.25" fill="#000"/>
<rect x="666.60" y="284.15" width="1.60" height="5.25" fill="#000"/>
<rect x="669.00" y="284.15" width="1.20" height="5.25" fill="#000"/>
<rect x="671.00" y="284.15" width="2.80" height="5.25" fill="#000"/>
<path d="M667.50 289.40V275.75" stroke="#000" stroke-width="0.9" fill="none"/>
<path d="M670.70 289.40V279.95" stroke="#000" stroke-width="0.9" fill="none"/>
<path d="M624.50 377.40V369.99M634.40 377.40V369.99M639.40 377.40V369.99" stroke="#000" stroke-width="0.9" fill="none"/>
<rect x="647.50" y="369.99" width="2.30" height="7.41" fill="#000"/>
<rect x="651.10" y="369.99" width="1.00" height="7.41" fill="#000"/>
<rect x="653.00" y="369.99" width="1.70" height="7.41" fill="#000"/>
<rect x="656.60" y="369.99" width="4.90" height="7.41" fill="#000"/>
<path d="M652.50 377.40V362.58M663.80 377.40V362.58" stroke="#000" stroke-width="0.9" fill="none"/>
<path d="M665.60 377.40V356.65" stroke="#000" stroke-width="0.9" fill="none"/>
<rect x="609.90" y="454.99" width="2.70" height="10.51" fill="#000"/>
<rect x="614.90" y="454.99" width="1.40" height="10.51" fill="#000"/>
<rect x="617.00" y="454.99" width="2.40" height="10.51" fill="#000"/>
<rect x="621.70" y="454.99" width="2.10" height="10.51" fill="#000"/>
<rect x="624.50" y="454.99" width="1.70" height="10.51" fill="#000"/>
<rect x="627.10" y="454.99" width="1.90" height="10.51" fill="#000"/>
<rect x="629.80" y="454.99" width="1.80" height="10.51" fill="#000"/>
<rect x="636.10" y="454.99" width="1.70" height="10.51" fill="#000"/>
<rect x="638.50" y="454.99" width="1.20" height="10.51" fill="#000"/>
<rect x="640.70" y="454.99" width="2.10" height="10.51" fill="#000"/>
<rect x="643.50" y="454.99" width="1.70" height="10.51" fill="#000"/>
<rect x="646.00" y="454.99" width="2.00" height="10.51" fill="#000"/>
<rect x="648.80" y="454.99" width="1.80" height="10.51" fill="#000"/>
<rect x="651.30" y="454.99" width="2.20" height="10.51" fill="#000"/>
<rect x="654.20" y="454.99" width="1.80" height="10.51" fill="#000"/>
<rect x="656.80" y="454.99" width="1.70" height="10.51" fill="#000"/>
<rect x="659.20" y="454.99" width="2.80" height="10.51" fill="#000"/>
<path d="M657.50 465.50V444.47" stroke="#000" stroke-width="0.9" fill="none"/>
<path d="M660.50 465.50V433.96" stroke="#000" stroke-width="0.9" fill="none"/>
<text x="54.95" y="49.099999999999994" font-size="15.8" font-weight="normal" stroke="#000" stroke-width="0.55">3</text>
<path d="M66.50 37.79 L68.08 37.79 L68.08 49.10 L66.74 49.10 L66.74 40.49 L64.69 41.67 L64.69 40.17 L65.95 39.30Z" fill="#000" stroke="#000" stroke-width="0.55"/>
<text x="72.52" y="49.099999999999994" font-size="15.8" font-weight="normal" stroke="#000" stroke-width="0.55">3</text>
<text x="81.31" y="49.099999999999994" font-size="15.8" font-weight="normal" stroke="#000" stroke-width="0.55">0</text>
<text x="54.35" y="136.60000000000002" font-size="15.8" font-weight="normal" stroke="#000" stroke-width="0.55">3</text>
<path d="M65.90 125.29 L67.48 125.29 L67.48 136.60 L66.14 136.60 L66.14 127.99 L64.09 129.17 L64.09 127.67 L65.35 126.80Z" fill="#000" stroke="#000" stroke-width="0.55"/>
<path d="M74.69 125.29 L76.27 125.29 L76.27 136.60 L74.93 136.60 L74.93 127.99 L72.87 129.17 L72.87 127.67 L74.14 126.80Z" fill="#000" stroke="#000" stroke-width="0.55"/>
<text x="80.71" y="136.60000000000002" font-size="15.8" font-weight="normal" stroke="#000" stroke-width="0.55">0</text>
<text x="53.65" y="224.3" font-size="15.8" font-weight="normal" stroke="#000" stroke-width="0.55">3</text>
<path d="M65.20 212.99 L66.78 212.99 L66.78 224.30 L65.44 224.30 L65.44 215.69 L63.39 216.87 L63.39 215.37 L64.65 214.50Z" fill="#000" stroke="#000" stroke-width="0.55"/>
<text x="71.22" y="224.3" font-size="15.8" font-weight="normal" stroke="#000" stroke-width="0.55">2</text>
<text x="80.01" y="224.3" font-size="15.8" font-weight="normal" stroke="#000" stroke-width="0.55">0</text>
<text x="53.05" y="311.3" font-size="15.8" font-weight="normal" stroke="#000" stroke-width="0.55">3</text>
<text x="61.84" y="311.3" font-size="15.8" font-weight="normal" stroke="#000" stroke-width="0.55">5</text>
<text x="70.62" y="311.3" font-size="15.8" font-weight="normal" stroke="#000" stroke-width="0.55">3</text>
<text x="79.41" y="311.3" font-size="15.8" font-weight="normal" stroke="#000" stroke-width="0.55">0</text>
<text x="53.35" y="399.6" font-size="15.8" font-weight="normal" stroke="#000" stroke-width="0.55">2</text>
<text x="62.14" y="399.6" font-size="15.8" font-weight="normal" stroke="#000" stroke-width="0.55">3</text>
<text x="70.92" y="399.6" font-size="15.8" font-weight="normal" stroke="#000" stroke-width="0.55">2</text>
<text x="79.71" y="399.6" font-size="15.8" font-weight="normal" stroke="#000" stroke-width="0.55">0</text>
<text x="310.24" y="50.3" font-size="15.8" font-weight="normal" stroke="#000" stroke-width="0.55">2</text>
<text x="319.02" y="50.3" font-size="15.8" font-weight="normal" stroke="#000" stroke-width="0.55">5</text>
<text x="327.81" y="50.3" font-size="15.8" font-weight="normal" stroke="#000" stroke-width="0.55">5</text>
<text x="319.02" y="137.8" font-size="15.8" font-weight="normal" stroke="#000" stroke-width="0.55">4</text>
<text x="327.81" y="137.8" font-size="15.8" font-weight="normal" stroke="#000" stroke-width="0.55">8</text>
<text x="319.02" y="225.60000000000002" font-size="15.8" font-weight="normal" stroke="#000" stroke-width="0.55">3</text>
<text x="327.81" y="225.60000000000002" font-size="15.8" font-weight="normal" stroke="#000" stroke-width="0.55">3</text>
<text x="318.72" y="309.8" font-size="15.8" font-weight="normal" stroke="#000" stroke-width="0.55">2</text>
<text x="327.51" y="309.8" font-size="15.8" font-weight="normal" stroke="#000" stroke-width="0.55">5</text>
<text x="567.42" y="51.8" font-size="15.8" font-weight="normal" stroke="#000" stroke-width="0.55">4</text>
<text x="576.21" y="51.8" font-size="15.8" font-weight="normal" stroke="#000" stroke-width="0.55">0</text>
<text x="567.42" y="139.3" font-size="15.8" font-weight="normal" stroke="#000" stroke-width="0.55">2</text>
<text x="576.21" y="139.3" font-size="15.8" font-weight="normal" stroke="#000" stroke-width="0.55">6</text>
<path d="M569.69 215.29 L571.27 215.29 L571.27 226.60 L569.93 226.60 L569.93 217.99 L567.87 219.17 L567.87 217.67 L569.14 216.80Z" fill="#000" stroke="#000" stroke-width="0.55"/>
<text x="575.71" y="226.60000000000002" font-size="15.8" font-weight="normal" stroke="#000" stroke-width="0.55">4</text>
<path d="M569.19 302.49 L570.77 302.49 L570.77 313.80 L569.43 313.80 L569.43 305.19 L567.37 306.37 L567.37 304.87 L568.64 304.00Z" fill="#000" stroke="#000" stroke-width="0.55"/>
<text x="575.21" y="313.8" font-size="15.8" font-weight="normal" stroke="#000" stroke-width="0.55">0</text>
<text x="574.91" y="401.8" font-size="15.8" font-weight="normal" stroke="#000" stroke-width="0.55">7</text>
<text x="241.90" y="57.5" font-size="12.8" font-weight="normal" stroke="#000" stroke-width="0.65">0</text>
<text x="249.02" y="57.5" font-size="12.8" font-weight="normal" stroke="#000" stroke-width="0.65">%</text>
<text x="241.30" y="145.75" font-size="12.8" font-weight="normal" stroke="#000" stroke-width="0.65">2</text>
<text x="248.42" y="145.75" font-size="12.8" font-weight="normal" stroke="#000" stroke-width="0.65">%</text>
<text x="241.40" y="232.6" font-size="12.8" font-weight="normal" stroke="#000" stroke-width="0.65">6</text>
<text x="248.52" y="232.6" font-size="12.8" font-weight="normal" stroke="#000" stroke-width="0.65">%</text>
<path d="M243.04 310.84 L244.32 310.84 L244.32 320.00 L243.23 320.00 L243.23 313.02 L241.57 313.98 L241.57 312.77 L242.59 312.06Z" fill="#000" stroke="#000" stroke-width="0.65"/>
<text x="247.92" y="320" font-size="12.8" font-weight="normal" stroke="#000" stroke-width="0.65">0</text>
<text x="255.04" y="320" font-size="12.8" font-weight="normal" stroke="#000" stroke-width="0.65">%</text>
<path d="M243.04 398.84 L244.32 398.84 L244.32 408.00 L243.23 408.00 L243.23 401.02 L241.57 401.98 L241.57 400.77 L242.59 400.06Z" fill="#000" stroke="#000" stroke-width="0.65"/>
<text x="247.92" y="408" font-size="12.8" font-weight="normal" stroke="#000" stroke-width="0.65">4</text>
<text x="255.04" y="408" font-size="12.8" font-weight="normal" stroke="#000" stroke-width="0.65">%</text>
<text x="489.20" y="58.75" font-size="12.8" font-weight="normal" stroke="#000" stroke-width="0.65">0</text>
<text x="496.32" y="58.75" font-size="12.8" font-weight="normal" stroke="#000" stroke-width="0.65">%</text>
<text x="489.00" y="147" font-size="12.8" font-weight="normal" stroke="#000" stroke-width="0.65">2</text>
<text x="496.12" y="147" font-size="12.8" font-weight="normal" stroke="#000" stroke-width="0.65">%</text>
<text x="488.80" y="233.8" font-size="12.8" font-weight="normal" stroke="#000" stroke-width="0.65">6</text>
<text x="495.92" y="233.8" font-size="12.8" font-weight="normal" stroke="#000" stroke-width="0.65">%</text>
<path d="M491.14 312.24 L492.42 312.24 L492.42 321.40 L491.33 321.40 L491.33 314.42 L489.67 315.38 L489.67 314.17 L490.69 313.46Z" fill="#000" stroke="#000" stroke-width="0.65"/>
<text x="496.02" y="321.4" font-size="12.8" font-weight="normal" stroke="#000" stroke-width="0.65">0</text>
<text x="503.14" y="321.4" font-size="12.8" font-weight="normal" stroke="#000" stroke-width="0.65">%</text>
<text x="737.00" y="60.5" font-size="12.8" font-weight="normal" stroke="#000" stroke-width="0.65">0</text>
<text x="744.12" y="60.5" font-size="12.8" font-weight="normal" stroke="#000" stroke-width="0.65">%</text>
<text x="737.00" y="148.25" font-size="12.8" font-weight="normal" stroke="#000" stroke-width="0.65">2</text>
<text x="744.12" y="148.25" font-size="12.8" font-weight="normal" stroke="#000" stroke-width="0.65">%</text>
<text x="737.00" y="235" font-size="12.8" font-weight="normal" stroke="#000" stroke-width="0.65">6</text>
<text x="744.12" y="235" font-size="12.8" font-weight="normal" stroke="#000" stroke-width="0.65">%</text>
<path d="M738.14 313.04 L739.42 313.04 L739.42 322.20 L738.33 322.20 L738.33 315.22 L736.67 316.18 L736.67 314.97 L737.69 314.26Z" fill="#000" stroke="#000" stroke-width="0.65"/>
<text x="743.02" y="322.2" font-size="12.8" font-weight="normal" stroke="#000" stroke-width="0.65">0</text>
<text x="750.14" y="322.2" font-size="12.8" font-weight="normal" stroke="#000" stroke-width="0.65">%</text>
<path d="M737.94 401.74 L739.22 401.74 L739.22 410.90 L738.13 410.90 L738.13 403.92 L736.47 404.88 L736.47 403.67 L737.49 402.96Z" fill="#000" stroke="#000" stroke-width="0.65"/>
<text x="742.82" y="410.9" font-size="12.8" font-weight="normal" stroke="#000" stroke-width="0.65">4</text>
<text x="749.94" y="410.9" font-size="12.8" font-weight="normal" stroke="#000" stroke-width="0.65">%</text>
<text x="105.10" y="479" font-size="16" font-weight="normal" stroke="#000" stroke-width="0.55">0</text>
<path d="M156.85 467.54 L158.45 467.54 L158.45 479.00 L157.09 479.00 L157.09 470.28 L155.01 471.48 L155.01 469.96 L156.29 469.08Z" fill="#000" stroke="#000" stroke-width="0.55"/>
<text x="162.95" y="479" font-size="16" font-weight="normal" stroke="#000" stroke-width="0.55">0</text>
<text x="208.20" y="479" font-size="16" font-weight="normal" stroke="#000" stroke-width="0.55">2</text>
<text x="217.10" y="479" font-size="16" font-weight="normal" stroke="#000" stroke-width="0.55">0</text>
<text x="262.15" y="479" font-size="16" font-weight="normal" stroke="#000" stroke-width="0.55">3</text>
<text x="271.05" y="479" font-size="16" font-weight="normal" stroke="#000" stroke-width="0.55">0</text>
<text x="353.20" y="392.2" font-size="16" font-weight="normal" stroke="#000" stroke-width="0.55">0</text>
<text x="402.65" y="392.2" font-size="16" font-weight="normal" stroke="#000" stroke-width="0.55">2</text>
<text x="411.55" y="392.2" font-size="16" font-weight="normal" stroke="#000" stroke-width="0.55">0</text>
<text x="456.25" y="392.2" font-size="16" font-weight="normal" stroke="#000" stroke-width="0.55">4</text>
<text x="465.15" y="392.2" font-size="16" font-weight="normal" stroke="#000" stroke-width="0.55">0</text>
<text x="509.50" y="392.2" font-size="16" font-weight="normal" stroke="#000" stroke-width="0.55">6</text>
<text x="518.40" y="392.2" font-size="16" font-weight="normal" stroke="#000" stroke-width="0.55">0</text>
<text x="600.25" y="481.6" font-size="16" font-weight="normal" stroke="#000" stroke-width="0.55">0</text>
<path d="M652.10 470.14 L653.70 470.14 L653.70 481.60 L652.34 481.60 L652.34 472.88 L650.26 474.08 L650.26 472.56 L651.54 471.68Z" fill="#000" stroke="#000" stroke-width="0.55"/>
<text x="658.20" y="481.6" font-size="16" font-weight="normal" stroke="#000" stroke-width="0.55">0</text>
<text x="703.55" y="481.6" font-size="16" font-weight="normal" stroke="#000" stroke-width="0.55">2</text>
<text x="712.45" y="481.6" font-size="16" font-weight="normal" stroke="#000" stroke-width="0.55">0</text>
<text x="758.40" y="481.6" font-size="16" font-weight="normal" stroke="#000" stroke-width="0.55">3</text>
<text x="767.30" y="481.6" font-size="16" font-weight="normal" stroke="#000" stroke-width="0.55">0</text>
<text x="172.5" y="19.9" font-size="22.3" font-weight="normal" text-anchor="start" stroke="#000" stroke-width="0.55">Ar</text>
<text x="421.5" y="20.6" font-size="22.3" font-weight="normal" text-anchor="start" stroke="#000" stroke-width="0.55">Ar</text>
<text x="668.0" y="22.4" font-size="22.3" font-weight="normal" text-anchor="start" stroke="#000" stroke-width="0.55">Ar</text>
<text x="201.75" y="8.7" font-size="17" font-weight="normal" text-anchor="middle" stroke="#000" stroke-width="0.25">+</text>
<text x="450.4" y="11.9" font-size="17" font-weight="normal" text-anchor="middle" stroke="#000" stroke-width="0.25">+</text>
<text x="460.25" y="11.9" font-size="17" font-weight="normal" text-anchor="middle" stroke="#000" stroke-width="0.25">+</text>
<text x="696.95" y="12.0" font-size="17" font-weight="normal" text-anchor="middle" stroke="#000" stroke-width="0.25">+</text>
<text x="697.1" y="28.7" font-size="17" font-weight="normal" text-anchor="middle" stroke="#000" stroke-width="0.25">2</text>
<circle cx="516" cy="461.1" r="0.7" fill="#333"/>
<text x="321.3" y="526.3" font-size="22.6" font-weight="normal" stroke="#000" stroke-width="0.4">Ion Kinetic Energy (eV)</text>
<g transform="translate(21.4 355.2) rotate(-90)" stroke="#000" stroke-width="0.4"><text x="0" y="0" font-size="22.5" font-weight="normal">Ion Signal Intensity (s</text><text x="215.8" y="-9.7" font-size="15" font-weight="normal">-</text><text x="219.65" y="-9.7" font-size="15" font-weight="normal">1</text><text x="232.1" y="0" font-size="22.5" font-weight="normal">)</text></g>
</svg>
</body></html>
